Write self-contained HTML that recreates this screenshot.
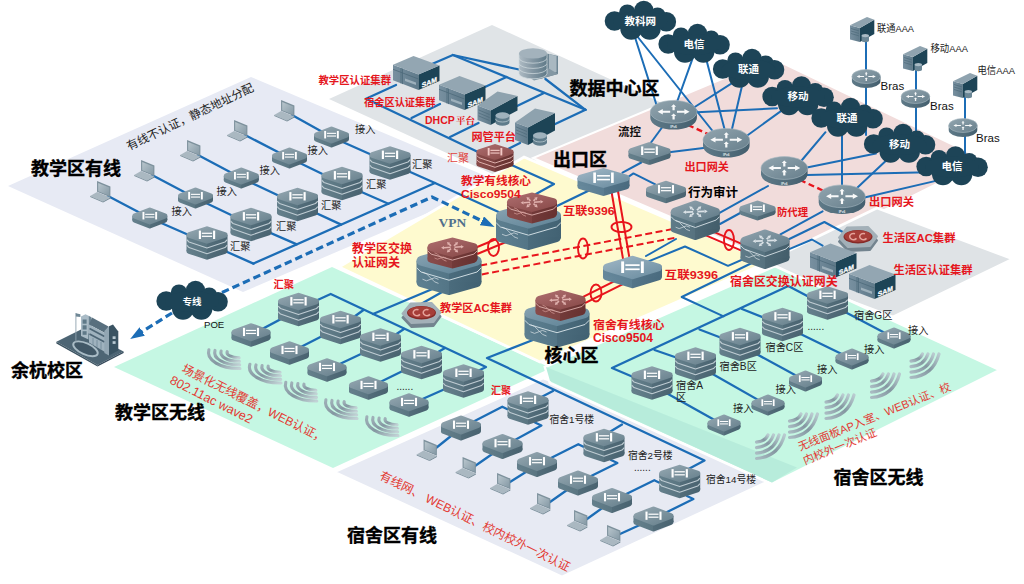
<!DOCTYPE html><html><head><meta charset="utf-8"><title>校园网拓扑</title>
<style>html,body{margin:0;padding:0;background:#fff;overflow:hidden}svg{display:block}</style></head><body>
<svg width="1024" height="584" viewBox="0 0 1024 584">
<defs>
<linearGradient id="gTop" x1="0" y1="0" x2="1" y2="1"><stop offset="0" stop-color="#91a4ae"/><stop offset="1" stop-color="#6a838f"/></linearGradient>
<linearGradient id="gTop2" x1="0" y1="0" x2="1" y2="1"><stop offset="0" stop-color="#8a9ea9"/><stop offset="1" stop-color="#647e8b"/></linearGradient>
<linearGradient id="bTop" x1="0" y1="0" x2="1" y2="1"><stop offset="0" stop-color="#9bb3c2"/><stop offset="1" stop-color="#6f90a3"/></linearGradient>
<linearGradient id="bTop2" x1="0" y1="0" x2="1" y2="1"><stop offset="0" stop-color="#86a2b1"/><stop offset="1" stop-color="#64879a"/></linearGradient>
<linearGradient id="rTop" x1="0" y1="0" x2="1" y2="1"><stop offset="0" stop-color="#a9696a"/><stop offset="1" stop-color="#8d4e4d"/></linearGradient>
<linearGradient id="gSide" x1="0" y1="0" x2="1" y2="0"><stop offset="0" stop-color="#647f8b"/><stop offset="0.5" stop-color="#5a7581"/><stop offset="0.5" stop-color="#536d7a"/><stop offset="1" stop-color="#4a6471"/></linearGradient>
<linearGradient id="gSide2" x1="0" y1="0" x2="1" y2="0"><stop offset="0" stop-color="#5f7b88"/><stop offset="0.5" stop-color="#56727f"/><stop offset="0.5" stop-color="#4e6976"/><stop offset="1" stop-color="#435e6b"/></linearGradient>
<linearGradient id="bSide" x1="0" y1="0" x2="1" y2="0"><stop offset="0" stop-color="#66889b"/><stop offset="0.5" stop-color="#5b7d91"/><stop offset="0.5" stop-color="#547589"/><stop offset="1" stop-color="#4a6b7f"/></linearGradient>
<linearGradient id="bSide2" x1="0" y1="0" x2="1" y2="0"><stop offset="0" stop-color="#5d7f90"/><stop offset="0.5" stop-color="#537586"/><stop offset="0.5" stop-color="#4b6c7d"/><stop offset="1" stop-color="#426273"/></linearGradient>
<linearGradient id="rSide" x1="0" y1="0" x2="1" y2="0"><stop offset="0" stop-color="#884b4a"/><stop offset="0.5" stop-color="#7d4241"/><stop offset="0.5" stop-color="#723a39"/><stop offset="1" stop-color="#683231"/></linearGradient>
<linearGradient id="rtTop" x1="0" y1="0" x2="1" y2="1"><stop offset="0" stop-color="#92a5af"/><stop offset="1" stop-color="#677f8c"/></linearGradient>
<linearGradient id="rtSide" x1="0" y1="0" x2="1" y2="0"><stop offset="0" stop-color="#5f7a88"/><stop offset="1" stop-color="#445f6e"/></linearGradient>
<linearGradient id="svFront" x1="0" y1="0" x2="1" y2="0"><stop offset="0" stop-color="#7890a0"/><stop offset="1" stop-color="#5f7a8a"/></linearGradient>
<linearGradient id="lapScr" x1="0" y1="0" x2="1" y2="1"><stop offset="0" stop-color="#b9c6cd"/><stop offset="1" stop-color="#8599a5"/></linearGradient>
<linearGradient id="dbSide" x1="0" y1="0" x2="1" y2="0"><stop offset="0" stop-color="#aebbc4"/><stop offset="0.45" stop-color="#8799a5"/><stop offset="1" stop-color="#5f7a88"/></linearGradient>
<linearGradient id="wfL" gradientUnits="objectBoundingBox" x1="0" y1="0" x2="1" y2="1"><stop offset="0" stop-color="#9fb0b8"/><stop offset="0.5" stop-color="#8497a1"/><stop offset="1" stop-color="#c2d3d6"/></linearGradient>
<linearGradient id="wfR" gradientUnits="objectBoundingBox" x1="1" y1="0" x2="0" y2="1"><stop offset="0" stop-color="#b9cbd0"/><stop offset="0.5" stop-color="#8497a1"/><stop offset="1" stop-color="#a9bbc2"/></linearGradient>
<marker id="arr" viewBox="0 0 10 10" refX="6" refY="5" markerWidth="4.4" markerHeight="3.1" orient="auto" preserveAspectRatio="none"><path d="M0 0 L10 5 L0 10 z" fill="#1c6db6"/></marker>
</defs>
<rect width="1024" height="584" fill="#fff"/>
<polygon points="492.0,25.0 662.0,103.0 499.0,177.0 329.0,99.0" fill="#e0e4e7" />
<polygon points="251.0,77.0 500.0,182.0 243.0,292.0 8.0,186.0" fill="#e7eaf4" />
<polygon points="332.0,267.0 551.0,368.0 333.0,468.0 114.0,367.0" fill="#c5f7e3" />
<polygon points="524.0,157.0 768.0,262.0 540.0,362.0 339.0,267.0" fill="#fefacf" stroke="#fff" stroke-width="2.8" stroke-linejoin="miter"/>
<polygon points="772.0,58.0 985.0,160.0 778.0,263.0 533.0,158.0" fill="#f1dcdb" stroke="#fff" stroke-width="2"/>
<polygon points="877.0,208.0 1013.0,259.0 893.0,317.0 757.0,266.0" fill="#dfe3e6" stroke="#fff" stroke-width="2.8" stroke-linejoin="miter"/>
<polygon points="543.0,378.0 800.0,467.0 562.0,577.0 334.0,472.0" fill="#e7eaf3" stroke="#fff" stroke-width="2.8" stroke-linejoin="miter"/>
<polygon points="775.0,266.0 1000.0,370.0 772.0,484.0 550.0,383.0 545.0,367.0" fill="#c5f7e3" stroke="#fff" stroke-width="2.8" stroke-linejoin="miter"/>
<polygon points="546.0,367.0 797.0,467.5 772.0,482.5 550.0,381.0" fill="#b7ecdb" />
<polyline points="292.0,115.0 331.5,137.0 390.0,163.0 435.0,183.0" fill="none" stroke="#1c6db6" stroke-width="2.3" stroke-linejoin="round" stroke-linecap="round" />
<polyline points="245.0,135.0 289.5,158.0 342.0,183.5 388.4,203.7" fill="none" stroke="#1c6db6" stroke-width="2.3" stroke-linejoin="round" stroke-linecap="round" />
<polyline points="198.0,155.0 241.3,178.0 297.5,204.5 341.2,224.6" fill="none" stroke="#1c6db6" stroke-width="2.3" stroke-linejoin="round" stroke-linecap="round" />
<polyline points="152.0,175.0 195.5,198.0 251.0,224.5 296.8,244.4" fill="none" stroke="#1c6db6" stroke-width="2.3" stroke-linejoin="round" stroke-linecap="round" />
<polyline points="108.0,196.0 149.8,218.0 207.0,243.0 253.4,263.6" fill="none" stroke="#1c6db6" stroke-width="2.3" stroke-linejoin="round" stroke-linecap="round" />
<polyline points="253.4,263.6 435.0,183.0 503.0,214.0" fill="none" stroke="#1c6db6" stroke-width="2.3" stroke-linejoin="round" stroke-linecap="round" />
<polyline points="432.0,64.0 452.9,55.0 519.0,69.5" fill="none" stroke="#1c6db6" stroke-width="2.3" stroke-linejoin="round" stroke-linecap="round" />
<polyline points="452.9,55.0 585.5,109.8" fill="none" stroke="#1c6db6" stroke-width="2.3" stroke-linejoin="round" stroke-linecap="round" />
<polyline points="485.5,86.7 506.5,77.0" fill="none" stroke="#1c6db6" stroke-width="2.3" stroke-linejoin="round" stroke-linecap="round" />
<polyline points="517.0,106.0 544.0,93.0" fill="none" stroke="#1c6db6" stroke-width="2.3" stroke-linejoin="round" stroke-linecap="round" />
<polyline points="545.4,79.0 585.5,109.8" fill="none" stroke="#1c6db6" stroke-width="2.3" stroke-linejoin="round" stroke-linecap="round" />
<polyline points="552.0,125.5 585.5,109.8" fill="none" stroke="#1c6db6" stroke-width="2.3" stroke-linejoin="round" stroke-linecap="round" />
<polyline points="396.0,85.0 366.0,98.8 478.0,152.0" fill="none" stroke="#1c6db6" stroke-width="2.3" stroke-linejoin="round" stroke-linecap="round" />
<polyline points="440.0,104.0 411.5,118.0" fill="none" stroke="#1c6db6" stroke-width="2.3" stroke-linejoin="round" stroke-linecap="round" />
<polyline points="478.5,123.0 450.0,137.0" fill="none" stroke="#1c6db6" stroke-width="2.3" stroke-linejoin="round" stroke-linecap="round" />
<polyline points="500.0,153.0 520.0,143.0" fill="none" stroke="#1c6db6" stroke-width="2.3" stroke-linejoin="round" stroke-linecap="round" />
<polyline points="511.5,165.0 554.0,184.0 536.0,194.0" fill="none" stroke="#1c6db6" stroke-width="2.3" stroke-linejoin="round" stroke-linecap="round" />
<polyline points="557.0,206.0 590.0,190.0" fill="none" stroke="#1c6db6" stroke-width="2.3" stroke-linejoin="round" stroke-linecap="round" />
<polyline points="633.4,32.3 657.5,108.0" fill="none" stroke="#1c6db6" stroke-width="2.0" stroke-linejoin="round" stroke-linecap="round" />
<polyline points="636.6,35.5 715.0,134.0" fill="none" stroke="#1c6db6" stroke-width="2.0" stroke-linejoin="round" stroke-linecap="round" />
<polyline points="694.4,53.4 677.0,102.0" fill="none" stroke="#1c6db6" stroke-width="2.0" stroke-linejoin="round" stroke-linecap="round" />
<polyline points="705.2,55.2 724.5,129.0" fill="none" stroke="#1c6db6" stroke-width="2.0" stroke-linejoin="round" stroke-linecap="round" />
<polyline points="739.9,78.2 690.0,110.0" fill="none" stroke="#1c6db6" stroke-width="2.0" stroke-linejoin="round" stroke-linecap="round" />
<polyline points="742.6,83.2 732.0,129.0" fill="none" stroke="#1c6db6" stroke-width="2.0" stroke-linejoin="round" stroke-linecap="round" />
<polyline points="777.0,108.3 697.0,112.2" fill="none" stroke="#1c6db6" stroke-width="2.0" stroke-linejoin="round" stroke-linecap="round" />
<polyline points="784.7,108.4 744.5,137.5" fill="none" stroke="#1c6db6" stroke-width="2.0" stroke-linejoin="round" stroke-linecap="round" />
<polyline points="825.5,132.2 802.0,160.0" fill="none" stroke="#1c6db6" stroke-width="2.0" stroke-linejoin="round" stroke-linecap="round" />
<polyline points="842.0,133.0 842.0,186.0" fill="none" stroke="#1c6db6" stroke-width="2.0" stroke-linejoin="round" stroke-linecap="round" />
<polyline points="875.9,153.6 807.0,167.5" fill="none" stroke="#1c6db6" stroke-width="2.0" stroke-linejoin="round" stroke-linecap="round" />
<polyline points="889.1,157.7 857.0,188.0" fill="none" stroke="#1c6db6" stroke-width="2.0" stroke-linejoin="round" stroke-linecap="round" />
<polyline points="928.0,172.3 807.0,175.0" fill="none" stroke="#1c6db6" stroke-width="2.0" stroke-linejoin="round" stroke-linecap="round" />
<polyline points="935.8,180.9 864.5,197.5" fill="none" stroke="#1c6db6" stroke-width="2.0" stroke-linejoin="round" stroke-linecap="round" />
<polyline points="866.0,40.0 866.0,135.0" fill="none" stroke="#1c6db6" stroke-width="2.0" stroke-linejoin="round" stroke-linecap="round" />
<polyline points="916.0,68.0 916.0,135.0" fill="none" stroke="#1c6db6" stroke-width="2.0" stroke-linejoin="round" stroke-linecap="round" />
<polyline points="965.0,95.0 965.0,155.0" fill="none" stroke="#1c6db6" stroke-width="2.0" stroke-linejoin="round" stroke-linecap="round" />
<polyline points="662.0,127.5 647.0,148.0" fill="none" stroke="#1c6db6" stroke-width="2.0" stroke-linejoin="round" stroke-linecap="round" />
<polyline points="622.5,172.7 641.3,162.5" fill="none" stroke="#1c6db6" stroke-width="2.0" stroke-linejoin="round" stroke-linecap="round" />
<polyline points="671.0,152.0 703.5,148.0" fill="none" stroke="#1c6db6" stroke-width="2.0" stroke-linejoin="round" stroke-linecap="round" />
<polyline points="628.7,176.6 633.4,173.4 655.3,184.4" fill="none" stroke="#1c6db6" stroke-width="2.0" stroke-linejoin="round" stroke-linecap="round" />
<polyline points="720.0,212.6 768.0,186.0" fill="none" stroke="#1c6db6" stroke-width="2.0" stroke-linejoin="round" stroke-linecap="round" />
<polyline points="720.0,224.0 742.0,212.0" fill="none" stroke="#1c6db6" stroke-width="2.0" stroke-linejoin="round" stroke-linecap="round" />
<polyline points="780.4,234.3 822.6,211.4" fill="none" stroke="#1c6db6" stroke-width="2.0" stroke-linejoin="round" stroke-linecap="round" />
<polyline points="788.3,239.5 824.4,222.0 843.7,232.5" fill="none" stroke="#1c6db6" stroke-width="2.0" stroke-linejoin="round" stroke-linecap="round" />
<polyline points="789.2,249.2 812.0,239.5 822.6,245.7" fill="none" stroke="#1c6db6" stroke-width="2.0" stroke-linejoin="round" stroke-linecap="round" />
<polyline points="643.0,263.6 685.0,246.5 728.0,265.8 750.5,256.0" fill="none" stroke="#1c6db6" stroke-width="2.0" stroke-linejoin="round" stroke-linecap="round" />
<polyline points="646.0,256.0 676.0,239.0" fill="none" stroke="#1c6db6" stroke-width="2.0" stroke-linejoin="round" stroke-linecap="round" />
<polyline points="755.0,261.5 681.7,297.0 723.6,316.3" fill="none" stroke="#1c6db6" stroke-width="2.0" stroke-linejoin="round" stroke-linecap="round" />
<polyline points="652.0,385.0 612.0,368.0 788.3,286.0 806.8,295.8" fill="none" stroke="#1c6db6" stroke-width="2.3" stroke-linejoin="round" stroke-linecap="round" />
<polyline points="652.0,385.0 723.5,425.0" fill="none" stroke="#1c6db6" stroke-width="2.3" stroke-linejoin="round" stroke-linecap="round" />
<polyline points="695.0,364.0 767.0,405.0" fill="none" stroke="#1c6db6" stroke-width="2.3" stroke-linejoin="round" stroke-linecap="round" />
<polyline points="740.0,345.0 806.0,381.0" fill="none" stroke="#1c6db6" stroke-width="2.3" stroke-linejoin="round" stroke-linecap="round" />
<polyline points="782.0,325.0 852.0,359.0" fill="none" stroke="#1c6db6" stroke-width="2.3" stroke-linejoin="round" stroke-linecap="round" />
<polyline points="828.0,303.0 894.5,338.0" fill="none" stroke="#1c6db6" stroke-width="2.3" stroke-linejoin="round" stroke-linecap="round" />
<polyline points="695.0,364.0 654.5,350.0" fill="none" stroke="#1c6db6" stroke-width="2.3" stroke-linejoin="round" stroke-linecap="round" />
<polyline points="740.0,345.0 699.5,329.5" fill="none" stroke="#1c6db6" stroke-width="2.3" stroke-linejoin="round" stroke-linecap="round" />
<polyline points="782.0,325.0 742.0,309.0" fill="none" stroke="#1c6db6" stroke-width="2.3" stroke-linejoin="round" stroke-linecap="round" />
<polyline points="300.0,308.0 330.7,294.0 486.0,367.0 464.0,378.0" fill="none" stroke="#1c6db6" stroke-width="2.3" stroke-linejoin="round" stroke-linecap="round" />
<polyline points="436.0,287.5 373.0,314.0" fill="none" stroke="#1c6db6" stroke-width="2.3" stroke-linejoin="round" stroke-linecap="round" />
<polyline points="443.0,291.5 421.0,304.0" fill="none" stroke="#1c6db6" stroke-width="2.3" stroke-linejoin="round" stroke-linecap="round" />
<polyline points="298.0,310.0 251.0,335.0" fill="none" stroke="#1c6db6" stroke-width="2.3" stroke-linejoin="round" stroke-linecap="round" />
<polyline points="340.0,327.0 289.0,353.0" fill="none" stroke="#1c6db6" stroke-width="2.3" stroke-linejoin="round" stroke-linecap="round" />
<polyline points="380.0,345.0 327.0,370.0" fill="none" stroke="#1c6db6" stroke-width="2.3" stroke-linejoin="round" stroke-linecap="round" />
<polyline points="421.0,362.0 368.0,388.0" fill="none" stroke="#1c6db6" stroke-width="2.3" stroke-linejoin="round" stroke-linecap="round" />
<polyline points="463.0,381.0 409.0,405.0" fill="none" stroke="#1c6db6" stroke-width="2.3" stroke-linejoin="round" stroke-linecap="round" />
<polyline points="340.0,327.0 363.5,310.0" fill="none" stroke="#1c6db6" stroke-width="2.3" stroke-linejoin="round" stroke-linecap="round" />
<polyline points="380.0,345.0 404.0,329.0" fill="none" stroke="#1c6db6" stroke-width="2.3" stroke-linejoin="round" stroke-linecap="round" />
<polyline points="421.0,362.0 445.0,348.0" fill="none" stroke="#1c6db6" stroke-width="2.3" stroke-linejoin="round" stroke-linecap="round" />
<polyline points="538.0,338.0 487.0,358.0 704.5,460.5 681.0,473.0" fill="none" stroke="#1c6db6" stroke-width="2.3" stroke-linejoin="round" stroke-linecap="round" />
<polyline points="553.0,391.0 528.0,404.0" fill="none" stroke="#1c6db6" stroke-width="2.3" stroke-linejoin="round" stroke-linecap="round" />
<polyline points="622.0,424.5 603.0,436.0" fill="none" stroke="#1c6db6" stroke-width="2.3" stroke-linejoin="round" stroke-linecap="round" />
<polyline points="510.0,410.5 502.3,406.7 461.0,428.0 436.0,448.0" fill="none" stroke="#1c6db6" stroke-width="2.3" stroke-linejoin="round" stroke-linecap="round" />
<polyline points="535.0,422.5 541.4,425.5 503.0,446.5 475.0,466.0" fill="none" stroke="#1c6db6" stroke-width="2.3" stroke-linejoin="round" stroke-linecap="round" />
<polyline points="586.0,448.0 578.3,444.2 537.0,465.0 510.0,482.0" fill="none" stroke="#1c6db6" stroke-width="2.3" stroke-linejoin="round" stroke-linecap="round" />
<polyline points="611.0,460.0 617.4,463.0 577.0,483.0 550.0,502.0" fill="none" stroke="#1c6db6" stroke-width="2.3" stroke-linejoin="round" stroke-linecap="round" />
<polyline points="662.0,484.0 654.3,480.2 612.0,501.0 587.0,519.0" fill="none" stroke="#1c6db6" stroke-width="2.3" stroke-linejoin="round" stroke-linecap="round" />
<polyline points="687.0,496.0 693.4,499.0 653.0,519.0 620.0,534.0" fill="none" stroke="#1c6db6" stroke-width="2.3" stroke-linejoin="round" stroke-linecap="round" />
<polyline points="222,292.5 432,197 489.5,224.5" fill="none" stroke="#1c6db6" stroke-width="3.2" stroke-dasharray="7.5,4" marker-end="url(#arr)"/>
<polyline points="172,313 135,336" fill="none" stroke="#1c6db6" stroke-width="3.2" stroke-dasharray="7.5,4" marker-end="url(#arr)"/>
<line x1="688" y1="125" x2="712" y2="136" stroke="#e8141c" stroke-width="2.4" stroke-dasharray="6,3.5"/>
<line x1="800" y1="180" x2="826" y2="192" stroke="#e8141c" stroke-width="2.4" stroke-dasharray="6,3.5"/>
<line x1="617.7" y1="189.5" x2="629.7" y2="259.5" stroke="#e8141c" stroke-width="2.0" />
<line x1="611.3" y1="190.5" x2="623.3" y2="260.5" stroke="#e8141c" stroke-width="2.0" />
<ellipse cx="621.5" cy="227.0" rx="10.0" ry="5.0" fill="none" stroke="#e8141c" stroke-width="1.9"/>
<line x1="474.8" y1="248.0" x2="510.8" y2="233.0" stroke="#e8141c" stroke-width="2.0" />
<line x1="477.2" y1="254.0" x2="513.2" y2="239.0" stroke="#e8141c" stroke-width="2.0" />
<ellipse cx="493.5" cy="247.5" rx="5.5" ry="8.5" fill="none" stroke="#e8141c" stroke-width="1.9"/>
<line x1="576.6" y1="300.1" x2="630.6" y2="273.1" stroke="#e8141c" stroke-width="2.0" />
<line x1="579.4" y1="305.9" x2="633.4" y2="278.9" stroke="#e8141c" stroke-width="2.0" />
<ellipse cx="596.0" cy="293.0" rx="5.5" ry="8.5" fill="none" stroke="#e8141c" stroke-width="1.9"/>
<line x1="707.3" y1="229.1" x2="749.3" y2="247.1" stroke="#e8141c" stroke-width="2.0" />
<line x1="704.7" y1="234.9" x2="746.7" y2="252.9" stroke="#e8141c" stroke-width="2.0" />
<ellipse cx="729.0" cy="240.0" rx="5.0" ry="10.0" fill="none" stroke="#e8141c" stroke-width="1.9"/>
<line x1="480.2" y1="265.6" x2="675.2" y2="228.6" stroke="#e8141c" stroke-width="2.0" stroke-dasharray="7,3.5"/>
<line x1="481.8" y1="274.4" x2="676.8" y2="237.4" stroke="#e8141c" stroke-width="2.0" stroke-dasharray="7,3.5"/>
<ellipse cx="583.0" cy="248.5" rx="5.0" ry="10.0" fill="none" stroke="#e8141c" stroke-width="1.9"/>
<g transform="translate(285.2,110.2) scale(0.92,0.92)">
<polygon points="-4.5,-11 10,-5 10,6.5 -4.5,0.5" fill="#7d919c"/>
<polygon points="-3.3,-9 8.8,-4 8.8,5 -3.3,0" fill="url(#lapScr)"/>
<polygon points="-12,5.2 -4.5,0.8 10,6.8 2,11.2" fill="#aab8c1"/>
<polygon points="-12,5.2 2,11.2 2,12.2 -12,6.2" fill="#7f939e"/>
<polygon points="2,11.2 10,6.8 10,7.8 2,12.2" fill="#6f8591"/>
</g>
<g transform="translate(238.2,130.2) scale(0.92,0.92)">
<polygon points="-4.5,-11 10,-5 10,6.5 -4.5,0.5" fill="#7d919c"/>
<polygon points="-3.3,-9 8.8,-4 8.8,5 -3.3,0" fill="url(#lapScr)"/>
<polygon points="-12,5.2 -4.5,0.8 10,6.8 2,11.2" fill="#aab8c1"/>
<polygon points="-12,5.2 2,11.2 2,12.2 -12,6.2" fill="#7f939e"/>
<polygon points="2,11.2 10,6.8 10,7.8 2,12.2" fill="#6f8591"/>
</g>
<g transform="translate(191.2,150.2) scale(0.92,0.92)">
<polygon points="-4.5,-11 10,-5 10,6.5 -4.5,0.5" fill="#7d919c"/>
<polygon points="-3.3,-9 8.8,-4 8.8,5 -3.3,0" fill="url(#lapScr)"/>
<polygon points="-12,5.2 -4.5,0.8 10,6.8 2,11.2" fill="#aab8c1"/>
<polygon points="-12,5.2 2,11.2 2,12.2 -12,6.2" fill="#7f939e"/>
<polygon points="2,11.2 10,6.8 10,7.8 2,12.2" fill="#6f8591"/>
</g>
<g transform="translate(145.2,170.2) scale(0.92,0.92)">
<polygon points="-4.5,-11 10,-5 10,6.5 -4.5,0.5" fill="#7d919c"/>
<polygon points="-3.3,-9 8.8,-4 8.8,5 -3.3,0" fill="url(#lapScr)"/>
<polygon points="-12,5.2 -4.5,0.8 10,6.8 2,11.2" fill="#aab8c1"/>
<polygon points="-12,5.2 2,11.2 2,12.2 -12,6.2" fill="#7f939e"/>
<polygon points="2,11.2 10,6.8 10,7.8 2,12.2" fill="#6f8591"/>
</g>
<g transform="translate(101.2,191.2) scale(0.92,0.92)">
<polygon points="-4.5,-11 10,-5 10,6.5 -4.5,0.5" fill="#7d919c"/>
<polygon points="-3.3,-9 8.8,-4 8.8,5 -3.3,0" fill="url(#lapScr)"/>
<polygon points="-12,5.2 -4.5,0.8 10,6.8 2,11.2" fill="#aab8c1"/>
<polygon points="-12,5.2 2,11.2 2,12.2 -12,6.2" fill="#7f939e"/>
<polygon points="2,11.2 10,6.8 10,7.8 2,12.2" fill="#6f8591"/>
</g>
<polygon points="331.5,133.1 346.4,139.0 331.5,144.9 316.6,139.0" fill="url(#gSide)" stroke="url(#gSide)" stroke-linejoin="round" stroke-width="5.2"/>
<rect x="314.0" y="135.0" width="35.0" height="4.0" fill="url(#gSide)"/>
<polygon points="331.5,129.1 346.4,135.0 331.5,140.9 316.6,135.0" fill="url(#gTop)" stroke="url(#gTop)" stroke-linejoin="round" stroke-width="5.2"/>
<g fill="#fff" opacity="1">
<rect x="324.20" y="130.95" width="1.90" height="7.50"/>
<rect x="336.90" y="130.95" width="1.90" height="7.50"/>
<rect x="326.90" y="132.80" width="9.20" height="1.10"/>
<rect x="326.90" y="135.50" width="9.20" height="1.10"/>
</g>
<polygon points="289.5,154.1 304.4,160.0 289.5,165.9 274.6,160.0" fill="url(#gSide)" stroke="url(#gSide)" stroke-linejoin="round" stroke-width="5.2"/>
<rect x="272.0" y="156.0" width="35.0" height="4.0" fill="url(#gSide)"/>
<polygon points="289.5,150.1 304.4,156.0 289.5,161.9 274.6,156.0" fill="url(#gTop)" stroke="url(#gTop)" stroke-linejoin="round" stroke-width="5.2"/>
<g fill="#fff" opacity="1">
<rect x="282.20" y="151.95" width="1.90" height="7.50"/>
<rect x="294.90" y="151.95" width="1.90" height="7.50"/>
<rect x="284.90" y="153.80" width="9.20" height="1.10"/>
<rect x="284.90" y="156.50" width="9.20" height="1.10"/>
</g>
<polygon points="241.3,174.1 256.2,180.0 241.3,185.9 226.4,180.0" fill="url(#gSide)" stroke="url(#gSide)" stroke-linejoin="round" stroke-width="5.2"/>
<rect x="223.8" y="176.0" width="35.0" height="4.0" fill="url(#gSide)"/>
<polygon points="241.3,170.1 256.2,176.0 241.3,181.9 226.4,176.0" fill="url(#gTop)" stroke="url(#gTop)" stroke-linejoin="round" stroke-width="5.2"/>
<g fill="#fff" opacity="1">
<rect x="234.00" y="171.95" width="1.90" height="7.50"/>
<rect x="246.70" y="171.95" width="1.90" height="7.50"/>
<rect x="236.70" y="173.80" width="9.20" height="1.10"/>
<rect x="236.70" y="176.50" width="9.20" height="1.10"/>
</g>
<polygon points="195.5,194.1 210.4,200.0 195.5,205.9 180.6,200.0" fill="url(#gSide)" stroke="url(#gSide)" stroke-linejoin="round" stroke-width="5.2"/>
<rect x="178.0" y="196.0" width="35.0" height="4.0" fill="url(#gSide)"/>
<polygon points="195.5,190.1 210.4,196.0 195.5,201.9 180.6,196.0" fill="url(#gTop)" stroke="url(#gTop)" stroke-linejoin="round" stroke-width="5.2"/>
<g fill="#fff" opacity="1">
<rect x="188.20" y="191.95" width="1.90" height="7.50"/>
<rect x="200.90" y="191.95" width="1.90" height="7.50"/>
<rect x="190.90" y="193.80" width="9.20" height="1.10"/>
<rect x="190.90" y="196.50" width="9.20" height="1.10"/>
</g>
<polygon points="149.8,214.1 164.7,220.0 149.8,225.9 134.9,220.0" fill="url(#gSide)" stroke="url(#gSide)" stroke-linejoin="round" stroke-width="5.2"/>
<rect x="132.3" y="216.0" width="35.0" height="4.0" fill="url(#gSide)"/>
<polygon points="149.8,210.1 164.7,216.0 149.8,221.9 134.9,216.0" fill="url(#gTop)" stroke="url(#gTop)" stroke-linejoin="round" stroke-width="5.2"/>
<g fill="#fff" opacity="1">
<rect x="142.50" y="211.95" width="1.90" height="7.50"/>
<rect x="155.20" y="211.95" width="1.90" height="7.50"/>
<rect x="145.20" y="213.80" width="9.20" height="1.10"/>
<rect x="145.20" y="216.50" width="9.20" height="1.10"/>
</g>
<polygon points="390.0,165.1 407.7,171.0 390.0,176.9 372.3,171.0" fill="url(#gSide)" stroke="url(#gSide)" stroke-linejoin="round" stroke-width="5.6"/>
<rect x="369.5" y="155.0" width="41.0" height="16.0" fill="url(#gSide)"/>
<polyline points="369.7,159.6 372.0,162.0 390.0,168.1 408.0,162.0 410.3,159.6" fill="none" stroke="#bfccd3" stroke-width="1.1" stroke-linejoin="round"/>
<polyline points="369.7,165.2 372.0,167.6 390.0,173.7 408.0,167.6 410.3,165.2" fill="none" stroke="#bfccd3" stroke-width="1.1" stroke-linejoin="round"/>
<polygon points="390.0,149.1 407.7,155.0 390.0,160.9 372.3,155.0" fill="url(#gTop)" stroke="url(#gTop)" stroke-linejoin="round" stroke-width="5.6"/>
<g fill="#fff" opacity="1">
<rect x="381.82" y="150.60" width="2.13" height="8.40"/>
<rect x="396.05" y="150.60" width="2.13" height="8.40"/>
<rect x="384.85" y="152.67" width="10.30" height="1.23"/>
<rect x="384.85" y="155.70" width="10.30" height="1.23"/>
</g>
<polygon points="342.0,185.6 359.7,191.5 342.0,197.4 324.3,191.5" fill="url(#gSide)" stroke="url(#gSide)" stroke-linejoin="round" stroke-width="5.6"/>
<rect x="321.5" y="175.5" width="41.0" height="16.0" fill="url(#gSide)"/>
<polyline points="321.7,180.1 324.0,182.5 342.0,188.6 360.0,182.5 362.3,180.1" fill="none" stroke="#bfccd3" stroke-width="1.1" stroke-linejoin="round"/>
<polyline points="321.7,185.7 324.0,188.1 342.0,194.2 360.0,188.1 362.3,185.7" fill="none" stroke="#bfccd3" stroke-width="1.1" stroke-linejoin="round"/>
<polygon points="342.0,169.6 359.7,175.5 342.0,181.4 324.3,175.5" fill="url(#gTop)" stroke="url(#gTop)" stroke-linejoin="round" stroke-width="5.6"/>
<g fill="#fff" opacity="1">
<rect x="333.82" y="171.10" width="2.13" height="8.40"/>
<rect x="348.05" y="171.10" width="2.13" height="8.40"/>
<rect x="336.85" y="173.17" width="10.30" height="1.23"/>
<rect x="336.85" y="176.20" width="10.30" height="1.23"/>
</g>
<polygon points="297.5,206.6 315.2,212.5 297.5,218.4 279.8,212.5" fill="url(#gSide)" stroke="url(#gSide)" stroke-linejoin="round" stroke-width="5.6"/>
<rect x="277.0" y="196.5" width="41.0" height="16.0" fill="url(#gSide)"/>
<polyline points="277.2,201.1 279.5,203.5 297.5,209.6 315.5,203.5 317.8,201.1" fill="none" stroke="#bfccd3" stroke-width="1.1" stroke-linejoin="round"/>
<polyline points="277.2,206.7 279.5,209.1 297.5,215.2 315.5,209.1 317.8,206.7" fill="none" stroke="#bfccd3" stroke-width="1.1" stroke-linejoin="round"/>
<polygon points="297.5,190.6 315.2,196.5 297.5,202.4 279.8,196.5" fill="url(#gTop)" stroke="url(#gTop)" stroke-linejoin="round" stroke-width="5.6"/>
<g fill="#fff" opacity="1">
<rect x="289.32" y="192.10" width="2.13" height="8.40"/>
<rect x="303.55" y="192.10" width="2.13" height="8.40"/>
<rect x="292.35" y="194.17" width="10.30" height="1.23"/>
<rect x="292.35" y="197.20" width="10.30" height="1.23"/>
</g>
<polygon points="251.0,226.6 268.7,232.5 251.0,238.4 233.3,232.5" fill="url(#gSide)" stroke="url(#gSide)" stroke-linejoin="round" stroke-width="5.6"/>
<rect x="230.5" y="216.5" width="41.0" height="16.0" fill="url(#gSide)"/>
<polyline points="230.7,221.1 233.0,223.5 251.0,229.6 269.0,223.5 271.3,221.1" fill="none" stroke="#bfccd3" stroke-width="1.1" stroke-linejoin="round"/>
<polyline points="230.7,226.7 233.0,229.1 251.0,235.2 269.0,229.1 271.3,226.7" fill="none" stroke="#bfccd3" stroke-width="1.1" stroke-linejoin="round"/>
<polygon points="251.0,210.6 268.7,216.5 251.0,222.4 233.3,216.5" fill="url(#gTop)" stroke="url(#gTop)" stroke-linejoin="round" stroke-width="5.6"/>
<g fill="#fff" opacity="1">
<rect x="242.82" y="212.10" width="2.13" height="8.40"/>
<rect x="257.05" y="212.10" width="2.13" height="8.40"/>
<rect x="245.85" y="214.17" width="10.30" height="1.23"/>
<rect x="245.85" y="217.20" width="10.30" height="1.23"/>
</g>
<polygon points="207.0,245.1 224.7,251.0 207.0,256.9 189.3,251.0" fill="url(#gSide)" stroke="url(#gSide)" stroke-linejoin="round" stroke-width="5.6"/>
<rect x="186.5" y="235.0" width="41.0" height="16.0" fill="url(#gSide)"/>
<polyline points="186.7,239.6 189.0,242.0 207.0,248.1 225.0,242.0 227.3,239.6" fill="none" stroke="#bfccd3" stroke-width="1.1" stroke-linejoin="round"/>
<polyline points="186.7,245.2 189.0,247.6 207.0,253.7 225.0,247.6 227.3,245.2" fill="none" stroke="#bfccd3" stroke-width="1.1" stroke-linejoin="round"/>
<polygon points="207.0,229.1 224.7,235.0 207.0,240.9 189.3,235.0" fill="url(#gTop)" stroke="url(#gTop)" stroke-linejoin="round" stroke-width="5.6"/>
<g fill="#fff" opacity="1">
<rect x="198.82" y="230.60" width="2.13" height="8.40"/>
<rect x="213.05" y="230.60" width="2.13" height="8.40"/>
<rect x="201.85" y="232.67" width="10.30" height="1.23"/>
<rect x="201.85" y="235.70" width="10.30" height="1.23"/>
</g>
<polygon points="540.0,52.0 558.0,56.0 558.0,74.0 540.0,79.0" fill="#6e8694"/>
<polygon points="549.0,54.0 556.5,56.0 556.5,72.0 549.0,74.0" fill="#a9b8c1"/>
<polygon points="518.0,70.0 534.0,80.5 558.0,74.0 548.0,68.0" fill="#8397a3"/>
<path d="M519.0 69.0 v4.6 a14 5.2 0 0 0 28 0 v-4.6 z" fill="url(#dbSide)" stroke="#d3dce1" stroke-width="0.7"/>
<path d="M519.0 63.8 v4.6 a14 5.2 0 0 0 28 0 v-4.6 z" fill="url(#dbSide)" stroke="#d3dce1" stroke-width="0.7"/>
<path d="M519.0 58.6 v4.6 a14 5.2 0 0 0 28 0 v-4.6 z" fill="url(#dbSide)" stroke="#d3dce1" stroke-width="0.7"/>
<path d="M519.0 53.4 v4.6 a14 5.2 0 0 0 28 0 v-4.6 z" fill="url(#dbSide)" stroke="#d3dce1" stroke-width="0.7"/>
<ellipse cx="533.0" cy="53.4" rx="14" ry="5.2" fill="#a3b2bc"/>
<polygon points="393.0,64.8 418.5,74.5 418.5,90.0 393.0,80.3" fill="url(#svFront)" />
<polygon points="418.5,74.5 439.5,65.5 439.5,81.0 418.5,90.0" fill="#1d4456" />
<polygon points="413.5,56.0 439.5,65.5 418.5,74.5 393.0,64.8" fill="#93a6b2" />
<g stroke="#4d6a7a" stroke-width="0.8" fill="none">
<line x1="401.0" y1="68.0" x2="401.0" y2="83.5"/>
<line x1="402.5" y1="68.6" x2="402.5" y2="84.1"/>
<line x1="393.0" y1="69.3" x2="418.5" y2="79.0"/>
</g>
<polygon points="405.0,78.5 416.0,82.5 416.0,85.0 405.0,81.0" fill="#9db0bb" />
<text transform="matrix(1,-0.42,0,1,421.7,87.8)" font-size="6.8" font-weight="bold" fill="#fff" stroke="#fff" stroke-width="0.25" font-family='"Liberation Sans","Noto Sans CJK SC",sans-serif'>SAM</text>
<polygon points="439.0,84.8 464.5,94.5 464.5,110.0 439.0,100.3" fill="url(#svFront)" />
<polygon points="464.5,94.5 485.5,85.5 485.5,101.0 464.5,110.0" fill="#1d4456" />
<polygon points="459.5,76.0 485.5,85.5 464.5,94.5 439.0,84.8" fill="#93a6b2" />
<g stroke="#4d6a7a" stroke-width="0.8" fill="none">
<line x1="447.0" y1="88.0" x2="447.0" y2="103.5"/>
<line x1="448.5" y1="88.6" x2="448.5" y2="104.1"/>
<line x1="439.0" y1="89.3" x2="464.5" y2="99.0"/>
</g>
<polygon points="451.0,98.5 462.0,102.5 462.0,105.0 451.0,101.0" fill="#9db0bb" />
<text transform="matrix(1,-0.42,0,1,467.7,107.8)" font-size="6.8" font-weight="bold" fill="#fff" stroke="#fff" stroke-width="0.25" font-family='"Liberation Sans","Noto Sans CJK SC",sans-serif'>SAM</text>
<polygon points="477.5,105.5 490.5,110.5 490.5,125.0 477.5,120.0" fill="url(#svFront)" />
<polygon points="490.5,110.5 517.5,96.0 517.5,110.5 490.5,125.0" fill="#1d4456" />
<polygon points="497.5,91.5 517.5,96.0 490.5,110.5 477.5,105.5" fill="#8ea2ae" />
<g stroke="#4d6a7a" stroke-width="0.7" fill="none">
<line x1="478.5" y1="109.9" x2="489.5" y2="114.5"/>
<line x1="478.5" y1="112.9" x2="489.5" y2="117.5"/>
<line x1="478.5" y1="115.9" x2="489.5" y2="120.5"/>
</g>
<path d="M495.5 115.5 v7 a7 3.2 0 0 0 14 0 v-7 z" fill="#5f7c8b"/>
<path d="M495.5 118.8 a7 3.2 0 0 0 14 0" fill="none" stroke="#c4d2d9" stroke-width="0.7"/>
<ellipse cx="502.5" cy="115.5" rx="7" ry="3.2" fill="#9fb2bd"/>
<polygon points="515.0,122.5 528.0,127.5 528.0,145.0 515.0,140.0" fill="url(#svFront)" />
<polygon points="528.0,127.5 555.0,113.0 555.0,130.5 528.0,145.0" fill="#1d4456" />
<polygon points="535.0,108.5 555.0,113.0 528.0,127.5 515.0,122.5" fill="#8ea2ae" />
<g stroke="#4d6a7a" stroke-width="0.7" fill="none">
<line x1="516.0" y1="126.9" x2="527.0" y2="131.5"/>
<line x1="516.0" y1="129.9" x2="527.0" y2="134.5"/>
<line x1="516.0" y1="132.9" x2="527.0" y2="137.5"/>
</g>
<path d="M533.0 135.5 v7 a7 3.2 0 0 0 14 0 v-7 z" fill="#5f7c8b"/>
<path d="M533.0 138.8 a7 3.2 0 0 0 14 0" fill="none" stroke="#c4d2d9" stroke-width="0.7"/>
<ellipse cx="540.0" cy="135.5" rx="7" ry="3.2" fill="#9fb2bd"/>
<polygon points="495.0,158.8 510.9,164.1 495.0,169.4 479.1,164.1" fill="url(#rSide)" stroke="url(#rSide)" stroke-linejoin="round" stroke-width="5.2"/>
<rect x="476.5" y="151.9" width="37.0" height="12.2" fill="url(#rSide)"/>
<polyline points="476.7,155.4 478.8,157.6 495.0,163.0 511.2,157.6 513.3,155.4" fill="none" stroke="#dcaeaa" stroke-width="1.0" stroke-linejoin="round"/>
<polyline points="476.7,159.7 478.8,161.9 495.0,167.3 511.2,161.9 513.3,159.7" fill="none" stroke="#dcaeaa" stroke-width="1.0" stroke-linejoin="round"/>
<polygon points="495.0,146.6 510.9,151.9 495.0,157.2 479.1,151.9" fill="url(#rTop)" stroke="url(#rTop)" stroke-linejoin="round" stroke-width="5.2"/>
<g fill="#f3c9c6" opacity="1">
<rect x="487.70" y="147.95" width="1.90" height="7.50"/>
<rect x="500.40" y="147.95" width="1.90" height="7.50"/>
<rect x="490.40" y="149.80" width="9.20" height="1.10"/>
<rect x="490.40" y="152.50" width="9.20" height="1.10"/>
</g>
<g fill="#1d4457">
<circle cx="614.5" cy="21.0" r="9.8"/>
<circle cx="627.3" cy="12.7" r="8.3"/>
<circle cx="643.8" cy="10.3" r="9.6"/>
<circle cx="657.5" cy="15.6" r="8.2"/>
<circle cx="666.3" cy="21.7" r="9.8"/>
<circle cx="631.3" cy="28.8" r="11.0"/>
<circle cx="649.7" cy="28.8" r="11.0"/>
<ellipse cx="640.3" cy="21.5" rx="27.0" ry="10.5"/>
</g>
<text x="640.3" y="24.7" font-size="10.5" fill="#fff" font-weight="bold" text-anchor="middle" font-family='"Liberation Sans","Noto Sans CJK SC",sans-serif' >教科网</text>
<g fill="#1d4457">
<circle cx="668.2" cy="44.0" r="9.8"/>
<circle cx="681.0" cy="35.7" r="8.3"/>
<circle cx="697.5" cy="33.3" r="9.6"/>
<circle cx="711.2" cy="38.6" r="8.2"/>
<circle cx="720.0" cy="44.7" r="9.8"/>
<circle cx="685.0" cy="51.8" r="11.0"/>
<circle cx="703.4" cy="51.8" r="11.0"/>
<ellipse cx="694.0" cy="44.5" rx="27.0" ry="10.5"/>
</g>
<text x="694.0" y="47.7" font-size="10.5" fill="#fff" font-weight="bold" text-anchor="middle" font-family='"Liberation Sans","Noto Sans CJK SC",sans-serif' >电信</text>
<g fill="#1d4457">
<circle cx="722.7" cy="69.0" r="9.8"/>
<circle cx="735.5" cy="60.7" r="8.3"/>
<circle cx="752.0" cy="58.3" r="9.6"/>
<circle cx="765.7" cy="63.6" r="8.2"/>
<circle cx="774.5" cy="69.7" r="9.8"/>
<circle cx="739.5" cy="76.8" r="11.0"/>
<circle cx="757.9" cy="76.8" r="11.0"/>
<ellipse cx="748.5" cy="69.5" rx="27.0" ry="10.5"/>
</g>
<text x="748.5" y="72.7" font-size="10.5" fill="#fff" font-weight="bold" text-anchor="middle" font-family='"Liberation Sans","Noto Sans CJK SC",sans-serif' >联通</text>
<g fill="#1d4457">
<circle cx="772.2" cy="96.5" r="9.8"/>
<circle cx="785.0" cy="88.2" r="8.3"/>
<circle cx="801.5" cy="85.8" r="9.6"/>
<circle cx="815.2" cy="91.1" r="8.2"/>
<circle cx="824.0" cy="97.2" r="9.8"/>
<circle cx="789.0" cy="104.3" r="11.0"/>
<circle cx="807.4" cy="104.3" r="11.0"/>
<ellipse cx="798.0" cy="97.0" rx="27.0" ry="10.5"/>
</g>
<text x="798.0" y="100.2" font-size="10.5" fill="#fff" font-weight="bold" text-anchor="middle" font-family='"Liberation Sans","Noto Sans CJK SC",sans-serif' >移动</text>
<g fill="#1d4457">
<circle cx="821.2" cy="118.0" r="9.8"/>
<circle cx="834.0" cy="109.7" r="8.3"/>
<circle cx="850.5" cy="107.3" r="9.6"/>
<circle cx="864.2" cy="112.6" r="8.2"/>
<circle cx="873.0" cy="118.7" r="9.8"/>
<circle cx="838.0" cy="125.8" r="11.0"/>
<circle cx="856.4" cy="125.8" r="11.0"/>
<ellipse cx="847.0" cy="118.5" rx="27.0" ry="10.5"/>
</g>
<text x="847.0" y="121.7" font-size="10.5" fill="#fff" font-weight="bold" text-anchor="middle" font-family='"Liberation Sans","Noto Sans CJK SC",sans-serif' >联通</text>
<g fill="#1d4457">
<circle cx="873.7" cy="144.0" r="9.8"/>
<circle cx="886.5" cy="135.7" r="8.3"/>
<circle cx="903.0" cy="133.3" r="9.6"/>
<circle cx="916.7" cy="138.6" r="8.2"/>
<circle cx="925.5" cy="144.7" r="9.8"/>
<circle cx="890.5" cy="151.8" r="11.0"/>
<circle cx="908.9" cy="151.8" r="11.0"/>
<ellipse cx="899.5" cy="144.5" rx="27.0" ry="10.5"/>
</g>
<text x="899.5" y="147.7" font-size="10.5" fill="#fff" font-weight="bold" text-anchor="middle" font-family='"Liberation Sans","Noto Sans CJK SC",sans-serif' >移动</text>
<g fill="#1d4457">
<circle cx="926.2" cy="166.5" r="9.8"/>
<circle cx="939.0" cy="158.2" r="8.3"/>
<circle cx="955.5" cy="155.8" r="9.6"/>
<circle cx="969.2" cy="161.1" r="8.2"/>
<circle cx="978.0" cy="167.2" r="9.8"/>
<circle cx="943.0" cy="174.3" r="11.0"/>
<circle cx="961.4" cy="174.3" r="11.0"/>
<ellipse cx="952.0" cy="167.0" rx="27.0" ry="10.5"/>
</g>
<text x="952.0" y="170.2" font-size="10.5" fill="#fff" font-weight="bold" text-anchor="middle" font-family='"Liberation Sans","Noto Sans CJK SC",sans-serif' >电信</text>
<g fill="#1d4457">
<circle cx="166.2" cy="301.0" r="9.8"/>
<circle cx="179.0" cy="292.7" r="8.3"/>
<circle cx="195.5" cy="290.3" r="9.6"/>
<circle cx="209.2" cy="295.6" r="8.2"/>
<circle cx="218.0" cy="301.7" r="9.8"/>
<circle cx="183.0" cy="308.8" r="11.0"/>
<circle cx="201.4" cy="308.8" r="11.0"/>
<ellipse cx="192.0" cy="301.5" rx="27.0" ry="10.5"/>
</g>
<text x="192.0" y="304.7" font-size="9.5" fill="#fff" font-weight="bold" text-anchor="middle" font-family='"Liberation Sans","Noto Sans CJK SC",sans-serif' >专线</text>
<path d="M650.3 111.8 v6.3 a23.3 11.4 0 0 0 46.6 0 v-6.3 z" fill="url(#rtSide)"/>
<ellipse cx="673.6" cy="111.8" rx="23.3" ry="11.4" fill="url(#rtTop)" stroke="#a7b8c1" stroke-width="0.6"/>
<g fill="#fff" opacity="0.95">
<path d="M657.6 111.8 l5.2 -2.7 v1.7 h7.4 v2.0 h-7.4 v1.7 z"/>
<path d="M689.6 111.8 l-5.2 -2.7 v1.7 h-7.4 v2.0 h7.4 v1.7 z"/>
<path d="M673.6 104.2 l2.6 2.6 h-1.5 v3.4 h-2.2 v-3.4 h-1.5 z"/>
<path d="M673.6 113.4 l2.6 2.6 h-1.5 v3.4 h-2.2 v-3.4 h-1.5 z"/>
</g>
<text x="673.6" y="128.3" font-size="3.2" fill="#e4ecf0" font-weight="bold" text-anchor="middle" font-family='"Liberation Sans","Noto Sans CJK SC",sans-serif' >IPv6</text>
<path d="M703.0 139.8 v6.3 a23.3 11.4 0 0 0 46.6 0 v-6.3 z" fill="url(#rtSide)"/>
<ellipse cx="726.3" cy="139.8" rx="23.3" ry="11.4" fill="url(#rtTop)" stroke="#a7b8c1" stroke-width="0.6"/>
<g fill="#fff" opacity="0.95">
<path d="M710.3 139.8 l5.2 -2.7 v1.7 h7.4 v2.0 h-7.4 v1.7 z"/>
<path d="M742.3 139.8 l-5.2 -2.7 v1.7 h-7.4 v2.0 h7.4 v1.7 z"/>
<path d="M726.3 132.2 l2.6 2.6 h-1.5 v3.4 h-2.2 v-3.4 h-1.5 z"/>
<path d="M726.3 141.4 l2.6 2.6 h-1.5 v3.4 h-2.2 v-3.4 h-1.5 z"/>
</g>
<text x="726.3" y="156.3" font-size="3.2" fill="#e4ecf0" font-weight="bold" text-anchor="middle" font-family='"Liberation Sans","Noto Sans CJK SC",sans-serif' >IPv6</text>
<path d="M761.0 168.0 v6.3 a23.3 11.4 0 0 0 46.6 0 v-6.3 z" fill="url(#rtSide)"/>
<ellipse cx="784.3" cy="168.0" rx="23.3" ry="11.4" fill="url(#rtTop)" stroke="#a7b8c1" stroke-width="0.6"/>
<g fill="#fff" opacity="0.95">
<path d="M768.3 168.0 l5.2 -2.7 v1.7 h7.4 v2.0 h-7.4 v1.7 z"/>
<path d="M800.3 168.0 l-5.2 -2.7 v1.7 h-7.4 v2.0 h7.4 v1.7 z"/>
<path d="M784.3 160.4 l2.6 2.6 h-1.5 v3.4 h-2.2 v-3.4 h-1.5 z"/>
<path d="M784.3 169.6 l2.6 2.6 h-1.5 v3.4 h-2.2 v-3.4 h-1.5 z"/>
</g>
<text x="784.3" y="184.5" font-size="3.2" fill="#e4ecf0" font-weight="bold" text-anchor="middle" font-family='"Liberation Sans","Noto Sans CJK SC",sans-serif' >IPv6</text>
<path d="M818.7 196.3 v6.3 a23.3 11.4 0 0 0 46.6 0 v-6.3 z" fill="url(#rtSide)"/>
<ellipse cx="842.0" cy="196.3" rx="23.3" ry="11.4" fill="url(#rtTop)" stroke="#a7b8c1" stroke-width="0.6"/>
<g fill="#fff" opacity="0.95">
<path d="M826.0 196.3 l5.2 -2.7 v1.7 h7.4 v2.0 h-7.4 v1.7 z"/>
<path d="M858.0 196.3 l-5.2 -2.7 v1.7 h-7.4 v2.0 h7.4 v1.7 z"/>
<path d="M842.0 188.7 l2.6 2.6 h-1.5 v3.4 h-2.2 v-3.4 h-1.5 z"/>
<path d="M842.0 197.9 l2.6 2.6 h-1.5 v3.4 h-2.2 v-3.4 h-1.5 z"/>
</g>
<text x="842.0" y="212.8" font-size="3.2" fill="#e4ecf0" font-weight="bold" text-anchor="middle" font-family='"Liberation Sans","Noto Sans CJK SC",sans-serif' >IPv6</text>
<path d="M851.9 76.5 v4.6 a14.3 7.0 0 0 0 28.6 0 v-4.6 z" fill="url(#rtSide)"/>
<ellipse cx="866.2" cy="76.5" rx="14.3" ry="7.0" fill="url(#rtTop)" stroke="#a7b8c1" stroke-width="0.6"/>
<g fill="#fff" opacity="0.95">
<path d="M856.6 76.5 l3.1 -1.6 v1.0 h4.4 v1.2 h-4.4 v1.0 z"/>
<path d="M875.8 76.5 l-3.1 -1.6 v1.0 h-4.4 v1.2 h4.4 v1.0 z"/>
<path d="M866.2 71.9 l1.6 1.6 h-0.9 v2.0 h-1.3 v-2.0 h-0.9 z"/>
<path d="M866.2 77.5 l1.6 1.6 h-0.9 v2.0 h-1.3 v-2.0 h-0.9 z"/>
</g>
<path d="M901.2 96.5 v4.6 a14.3 7.0 0 0 0 28.6 0 v-4.6 z" fill="url(#rtSide)"/>
<ellipse cx="915.5" cy="96.5" rx="14.3" ry="7.0" fill="url(#rtTop)" stroke="#a7b8c1" stroke-width="0.6"/>
<g fill="#fff" opacity="0.95">
<path d="M905.9 96.5 l3.1 -1.6 v1.0 h4.4 v1.2 h-4.4 v1.0 z"/>
<path d="M925.1 96.5 l-3.1 -1.6 v1.0 h-4.4 v1.2 h4.4 v1.0 z"/>
<path d="M915.5 91.9 l1.6 1.6 h-0.9 v2.0 h-1.3 v-2.0 h-0.9 z"/>
<path d="M915.5 97.5 l1.6 1.6 h-0.9 v2.0 h-1.3 v-2.0 h-0.9 z"/>
</g>
<path d="M948.7 125.5 v4.6 a14.3 7.0 0 0 0 28.6 0 v-4.6 z" fill="url(#rtSide)"/>
<ellipse cx="963.0" cy="125.5" rx="14.3" ry="7.0" fill="url(#rtTop)" stroke="#a7b8c1" stroke-width="0.6"/>
<g fill="#fff" opacity="0.95">
<path d="M953.4 125.5 l3.1 -1.6 v1.0 h4.4 v1.2 h-4.4 v1.0 z"/>
<path d="M972.6 125.5 l-3.1 -1.6 v1.0 h-4.4 v1.2 h4.4 v1.0 z"/>
<path d="M963.0 120.9 l1.6 1.6 h-0.9 v2.0 h-1.3 v-2.0 h-0.9 z"/>
<path d="M963.0 126.5 l1.6 1.6 h-0.9 v2.0 h-1.3 v-2.0 h-0.9 z"/>
</g>
<polygon points="850.0,25.2 859.9,27.9 859.9,42.1 850.0,39.4" fill="url(#svFront)" />
<polygon points="859.9,27.9 874.3,19.8 874.3,34.0 859.9,42.1" fill="#1d4456" />
<polygon points="867.0,17.1 874.3,19.8 859.9,27.9 850.0,25.2" fill="#8fa3af" />
<g stroke="#4d6a7a" stroke-width="0.7" fill="none">
<line x1="851.0" y1="28.5" x2="858.9" y2="30.9"/>
<line x1="851.0" y1="31.0" x2="858.9" y2="33.4"/>
<line x1="851.0" y1="33.5" x2="858.9" y2="35.9"/>
</g>
<path d="M861.6 35.6 v5 a3.7 1.7 0 0 0 7.4 0 v-5 z" fill="#6b8796"/>
<ellipse cx="865.3" cy="35.6" rx="3.7" ry="1.7" fill="#a9bbc5"/>
<polygon points="903.0,54.2 912.9,56.9 912.9,71.1 903.0,68.4" fill="url(#svFront)" />
<polygon points="912.9,56.9 927.3,48.8 927.3,63.0 912.9,71.1" fill="#1d4456" />
<polygon points="920.0,46.1 927.3,48.8 912.9,56.9 903.0,54.2" fill="#8fa3af" />
<g stroke="#4d6a7a" stroke-width="0.7" fill="none">
<line x1="904.0" y1="57.5" x2="911.9" y2="59.9"/>
<line x1="904.0" y1="60.0" x2="911.9" y2="62.4"/>
<line x1="904.0" y1="62.5" x2="911.9" y2="64.9"/>
</g>
<path d="M914.6 64.6 v5 a3.7 1.7 0 0 0 7.4 0 v-5 z" fill="#6b8796"/>
<ellipse cx="918.3" cy="64.6" rx="3.7" ry="1.7" fill="#a9bbc5"/>
<polygon points="953.0,81.2 962.9,83.9 962.9,98.1 953.0,95.4" fill="url(#svFront)" />
<polygon points="962.9,83.9 977.3,75.8 977.3,90.0 962.9,98.1" fill="#1d4456" />
<polygon points="970.0,73.1 977.3,75.8 962.9,83.9 953.0,81.2" fill="#8fa3af" />
<g stroke="#4d6a7a" stroke-width="0.7" fill="none">
<line x1="954.0" y1="84.5" x2="961.9" y2="86.9"/>
<line x1="954.0" y1="87.0" x2="961.9" y2="89.4"/>
<line x1="954.0" y1="89.5" x2="961.9" y2="91.9"/>
</g>
<path d="M964.6 91.6 v5 a3.7 1.7 0 0 0 7.4 0 v-5 z" fill="#6b8796"/>
<ellipse cx="968.3" cy="91.6" rx="3.7" ry="1.7" fill="#a9bbc5"/>
<polygon points="649.5,150.2 667.5,156.0 649.5,161.8 631.5,156.0" fill="url(#gSide)" stroke="url(#gSide)" stroke-linejoin="round" stroke-width="6.0"/>
<rect x="628.5" y="151.0" width="42.0" height="5.0" fill="url(#gSide)"/>
<polygon points="649.5,145.2 667.5,151.0 649.5,156.8 631.5,151.0" fill="url(#gTop)" stroke="url(#gTop)" stroke-linejoin="round" stroke-width="6.0"/>
<g fill="#fff" opacity="1">
<rect x="641.11" y="146.39" width="2.18" height="8.62"/>
<rect x="655.71" y="146.39" width="2.18" height="8.62"/>
<rect x="644.21" y="148.51" width="10.58" height="1.26"/>
<rect x="644.21" y="151.62" width="10.58" height="1.26"/>
</g>
<polygon points="603.5,179.5 626.0,186.0 603.5,192.5 581.0,186.0" fill="url(#bSide)" stroke="url(#bSide)" stroke-linejoin="round" stroke-width="7.0"/>
<rect x="577.5" y="178.0" width="52.0" height="8.0" fill="url(#bSide)"/>
<polygon points="603.5,171.5 626.0,178.0 603.5,184.5 581.0,178.0" fill="url(#bTop)" stroke="url(#bTop)" stroke-linejoin="round" stroke-width="7.0"/>
<g fill="#fff" opacity="1">
<rect x="593.28" y="172.45" width="2.66" height="10.50"/>
<rect x="611.06" y="172.45" width="2.66" height="10.50"/>
<rect x="597.06" y="175.04" width="12.88" height="1.54"/>
<rect x="597.06" y="178.82" width="12.88" height="1.54"/>
</g>
<polygon points="666.0,188.8 683.0,194.5 666.0,200.2 649.0,194.5" fill="url(#gSide)" stroke="url(#gSide)" stroke-linejoin="round" stroke-width="6.0"/>
<rect x="646.0" y="189.5" width="40.0" height="5.0" fill="url(#gSide)"/>
<polygon points="666.0,183.8 683.0,189.5 666.0,195.2 649.0,189.5" fill="url(#gTop)" stroke="url(#gTop)" stroke-linejoin="round" stroke-width="6.0"/>
<g fill="#fff" opacity="1">
<rect x="657.97" y="185.07" width="2.09" height="8.25"/>
<rect x="671.94" y="185.07" width="2.09" height="8.25"/>
<rect x="660.94" y="187.11" width="10.12" height="1.21"/>
<rect x="660.94" y="190.08" width="10.12" height="1.21"/>
</g>
<polygon points="757.5,207.1 772.9,212.5 757.5,217.9 742.1,212.5" fill="url(#gSide)" stroke="url(#gSide)" stroke-linejoin="round" stroke-width="5.2"/>
<rect x="739.5" y="208.5" width="36.0" height="4.0" fill="url(#gSide)"/>
<polygon points="757.5,203.1 772.9,208.5 757.5,213.9 742.1,208.5" fill="url(#gTop)" stroke="url(#gTop)" stroke-linejoin="round" stroke-width="5.2"/>
<g fill="#fff" opacity="1">
<rect x="750.20" y="204.45" width="1.90" height="7.50"/>
<rect x="762.90" y="204.45" width="1.90" height="7.50"/>
<rect x="752.90" y="206.30" width="9.20" height="1.10"/>
<rect x="752.90" y="209.00" width="9.20" height="1.10"/>
</g>
<polygon points="632.5,268.8 658.0,276.5 632.5,284.2 607.0,276.5" fill="url(#bSide)" stroke="url(#bSide)" stroke-linejoin="round" stroke-width="8.0"/>
<rect x="603.0" y="267.5" width="59.0" height="9.0" fill="url(#bSide)"/>
<polygon points="632.5,259.8 658.0,267.5 632.5,275.2 607.0,267.5" fill="url(#bTop)" stroke="url(#bTop)" stroke-linejoin="round" stroke-width="8.0"/>
<g fill="#fff" opacity="1">
<rect x="621.18" y="261.39" width="2.94" height="11.62"/>
<rect x="640.87" y="261.39" width="2.94" height="11.62"/>
<rect x="625.37" y="264.25" width="14.26" height="1.71"/>
<rect x="625.37" y="268.44" width="14.26" height="1.71"/>
</g>
<polygon points="695.3,221.5 715.8,228.8 695.3,236.0 674.8,228.8" fill="url(#gSide2)" stroke="url(#gSide2)" stroke-linejoin="round" stroke-width="8.0"/>
<rect x="670.8" y="211.8" width="49.0" height="17.0" fill="url(#gSide2)"/>
<polyline points="671.0,216.6 674.4,220.0 695.3,227.5 716.2,220.0 719.6,216.6" fill="none" stroke="#c9d5db" stroke-width="1.0" stroke-linejoin="round"/>
<polygon points="695.3,204.5 715.8,211.8 695.3,219.0 674.8,211.8" fill="url(#gTop2)" stroke="url(#gTop2)" stroke-linejoin="round" stroke-width="8.0"/>
<g stroke="#e3e9ed" fill="#e3e9ed" stroke-width="1.70" stroke-linecap="butt" opacity="0.92">
<line x1="697.5" y1="211.6" x2="704.5" y2="211.3"/>
<polygon points="707.7,211.2 704.6,213.2 704.4,209.4" stroke="none"/>
<line x1="693.1" y1="211.9" x2="686.1" y2="212.2"/>
<polygon points="682.9,212.3 686.0,210.3 686.2,214.1" stroke="none"/>
<line x1="696.9" y1="210.2" x2="699.0" y2="208.3"/>
<polygon points="701.3,206.2 700.3,209.7 697.7,206.9" stroke="none"/>
<line x1="693.7" y1="210.2" x2="691.6" y2="208.3"/>
<polygon points="689.3,206.2 692.9,206.9 690.3,209.7" stroke="none"/>
<line x1="696.9" y1="213.2" x2="699.1" y2="215.2"/>
<polygon points="701.5,217.3 697.9,216.6 700.4,213.8" stroke="none"/>
<line x1="693.7" y1="213.2" x2="691.5" y2="215.2"/>
<polygon points="689.1,217.3 690.2,213.8 692.7,216.6" stroke="none"/>
</g>
<g stroke="#dfe7eb" stroke-width="0.8" fill="none" opacity="0.85">
<path d="M675.6 220.8 l3.6 1.4 l7.2 7.2 l3.6 1.4"/>
<path d="M675.6 227.2 l3.6 1.4 l7.2 -2.7 l3.6 1.4"/>
</g>
<polygon points="765.0,250.5 785.5,257.8 765.0,265.0 744.5,257.8" fill="url(#gSide2)" stroke="url(#gSide2)" stroke-linejoin="round" stroke-width="8.0"/>
<rect x="740.5" y="240.8" width="49.0" height="17.0" fill="url(#gSide2)"/>
<polyline points="740.7,245.6 744.1,249.0 765.0,256.5 785.9,249.0 789.3,245.6" fill="none" stroke="#c9d5db" stroke-width="1.0" stroke-linejoin="round"/>
<polygon points="765.0,233.5 785.5,240.8 765.0,248.0 744.5,240.8" fill="url(#gTop2)" stroke="url(#gTop2)" stroke-linejoin="round" stroke-width="8.0"/>
<g stroke="#e3e9ed" fill="#e3e9ed" stroke-width="1.70" stroke-linecap="butt" opacity="0.92">
<line x1="767.2" y1="240.6" x2="774.2" y2="240.3"/>
<polygon points="777.4,240.2 774.3,242.2 774.1,238.4" stroke="none"/>
<line x1="762.8" y1="240.9" x2="755.8" y2="241.2"/>
<polygon points="752.6,241.3 755.7,239.3 755.9,243.1" stroke="none"/>
<line x1="766.6" y1="239.2" x2="768.7" y2="237.3"/>
<polygon points="771.0,235.2 770.0,238.7 767.4,235.9" stroke="none"/>
<line x1="763.4" y1="239.2" x2="761.3" y2="237.3"/>
<polygon points="759.0,235.2 762.6,235.9 760.0,238.7" stroke="none"/>
<line x1="766.6" y1="242.2" x2="768.8" y2="244.2"/>
<polygon points="771.2,246.3 767.6,245.6 770.1,242.8" stroke="none"/>
<line x1="763.4" y1="242.2" x2="761.2" y2="244.2"/>
<polygon points="758.8,246.3 759.9,242.8 762.4,245.6" stroke="none"/>
</g>
<g stroke="#dfe7eb" stroke-width="0.8" fill="none" opacity="0.85">
<path d="M745.3 249.8 l3.6 1.4 l7.2 7.2 l3.6 1.4"/>
<path d="M745.3 256.1 l3.6 1.4 l7.2 -2.7 l3.6 1.4"/>
</g>
<polygon points="528.5,229.5 556.0,237.2 528.5,245.0 501.0,237.2" fill="url(#bSide2)" stroke="url(#bSide2)" stroke-linejoin="round" stroke-width="10.0"/>
<rect x="496.0" y="215.8" width="65.0" height="21.5" fill="url(#bSide2)"/>
<polyline points="496.2,222.8 500.5,227.0 528.5,235.2 556.5,227.0 560.8,222.8" fill="none" stroke="#cddbe1" stroke-width="1.0" stroke-linejoin="round"/>
<polygon points="528.5,208.0 556.0,215.8 528.5,223.5 501.0,215.8" fill="url(#bTop2)" stroke="url(#bTop2)" stroke-linejoin="round" stroke-width="10.0"/>
<g stroke="#dfe7eb" stroke-width="0.8" fill="none" opacity="0.85">
<path d="M502.0 227.2 l4.0 1.6 l8.0 8.0 l4.0 1.6"/>
<path d="M502.0 234.2 l4.0 1.6 l8.0 -3.0 l4.0 1.6"/>
</g>
<polygon points="532.0,208.0 553.0,213.8 532.0,219.5 511.0,213.8" fill="url(#rSide)" stroke="url(#rSide)" stroke-linejoin="round" stroke-width="8.0"/>
<rect x="507.0" y="202.2" width="50.0" height="11.5" fill="url(#rSide)"/>
<polyline points="507.2,205.7 510.6,209.1 532.0,215.1 553.4,209.1 556.8,205.7" fill="none" stroke="#dcb0ad" stroke-width="0.9" stroke-linejoin="round"/>
<polygon points="532.0,196.5 553.0,202.2 532.0,208.0 511.0,202.2" fill="url(#rTop)" stroke="url(#rTop)" stroke-linejoin="round" stroke-width="8.0"/>
<g stroke="#ecc0bc" fill="#ecc0bc" stroke-width="1.56" stroke-linecap="butt" opacity="0.85">
<line x1="534.0" y1="202.2" x2="540.5" y2="201.8"/>
<polygon points="543.4,201.7 540.6,203.6 540.4,200.1" stroke="none"/>
<line x1="530.0" y1="202.3" x2="523.5" y2="202.7"/>
<polygon points="520.6,202.8 523.4,200.9 523.6,204.4" stroke="none"/>
<line x1="533.5" y1="200.9" x2="535.4" y2="199.1"/>
<polygon points="537.5,197.1 536.6,200.4 534.2,197.8" stroke="none"/>
<line x1="530.5" y1="200.9" x2="528.6" y2="199.1"/>
<polygon points="526.5,197.1 529.8,197.8 527.4,200.4" stroke="none"/>
<line x1="533.5" y1="203.6" x2="535.5" y2="205.4"/>
<polygon points="537.7,207.4 534.3,206.7 536.7,204.1" stroke="none"/>
<line x1="530.5" y1="203.6" x2="528.5" y2="205.4"/>
<polygon points="526.3,207.4 527.3,204.1 529.7,206.7" stroke="none"/>
</g>
<g stroke="#d9a19d" stroke-width="0.8" fill="none" opacity="0.85">
<path d="M514.0 207.8 l3.0 1.2 l6.0 6.0 l3.0 1.2"/>
<path d="M514.0 213.0 l3.0 1.2 l6.0 -2.2 l3.0 1.2"/>
</g>
<polygon points="449.0,274.5 476.5,282.2 449.0,290.0 421.5,282.2" fill="url(#bSide2)" stroke="url(#bSide2)" stroke-linejoin="round" stroke-width="10.0"/>
<rect x="416.5" y="260.8" width="65.0" height="21.5" fill="url(#bSide2)"/>
<polyline points="416.7,267.8 421.0,272.0 449.0,280.2 477.0,272.0 481.3,267.8" fill="none" stroke="#cddbe1" stroke-width="1.0" stroke-linejoin="round"/>
<polygon points="449.0,253.0 476.5,260.8 449.0,268.5 421.5,260.8" fill="url(#bTop2)" stroke="url(#bTop2)" stroke-linejoin="round" stroke-width="10.0"/>
<g stroke="#dfe7eb" stroke-width="0.8" fill="none" opacity="0.85">
<path d="M422.5 272.2 l4.0 1.6 l8.0 8.0 l4.0 1.6"/>
<path d="M422.5 279.2 l4.0 1.6 l8.0 -3.0 l4.0 1.6"/>
</g>
<polygon points="452.5,253.0 473.5,258.8 452.5,264.5 431.5,258.8" fill="url(#rSide)" stroke="url(#rSide)" stroke-linejoin="round" stroke-width="8.0"/>
<rect x="427.5" y="247.2" width="50.0" height="11.5" fill="url(#rSide)"/>
<polyline points="427.7,250.7 431.1,254.1 452.5,260.1 473.9,254.1 477.3,250.7" fill="none" stroke="#dcb0ad" stroke-width="0.9" stroke-linejoin="round"/>
<polygon points="452.5,241.5 473.5,247.2 452.5,253.0 431.5,247.2" fill="url(#rTop)" stroke="url(#rTop)" stroke-linejoin="round" stroke-width="8.0"/>
<g stroke="#ecc0bc" fill="#ecc0bc" stroke-width="1.56" stroke-linecap="butt" opacity="0.85">
<line x1="454.5" y1="247.2" x2="461.0" y2="246.8"/>
<polygon points="463.9,246.7 461.1,248.6 460.9,245.1" stroke="none"/>
<line x1="450.5" y1="247.3" x2="444.0" y2="247.7"/>
<polygon points="441.1,247.8 443.9,245.9 444.1,249.4" stroke="none"/>
<line x1="454.0" y1="245.9" x2="455.9" y2="244.1"/>
<polygon points="458.0,242.1 457.1,245.4 454.7,242.8" stroke="none"/>
<line x1="451.0" y1="245.9" x2="449.1" y2="244.1"/>
<polygon points="447.0,242.1 450.3,242.8 447.9,245.4" stroke="none"/>
<line x1="454.0" y1="248.6" x2="456.0" y2="250.4"/>
<polygon points="458.2,252.4 454.8,251.7 457.2,249.1" stroke="none"/>
<line x1="451.0" y1="248.6" x2="449.0" y2="250.4"/>
<polygon points="446.8,252.4 447.8,249.1 450.2,251.7" stroke="none"/>
</g>
<g stroke="#d9a19d" stroke-width="0.8" fill="none" opacity="0.85">
<path d="M434.5 252.8 l3.0 1.2 l6.0 6.0 l3.0 1.2"/>
<path d="M434.5 258.0 l3.0 1.2 l6.0 -2.2 l3.0 1.2"/>
</g>
<polygon points="557.0,327.0 584.5,334.8 557.0,342.5 529.5,334.8" fill="url(#bSide2)" stroke="url(#bSide2)" stroke-linejoin="round" stroke-width="10.0"/>
<rect x="524.5" y="313.2" width="65.0" height="21.5" fill="url(#bSide2)"/>
<polyline points="524.7,320.2 529.0,324.5 557.0,332.7 585.0,324.5 589.3,320.2" fill="none" stroke="#cddbe1" stroke-width="1.0" stroke-linejoin="round"/>
<polygon points="557.0,305.5 584.5,313.2 557.0,321.0 529.5,313.2" fill="url(#bTop2)" stroke="url(#bTop2)" stroke-linejoin="round" stroke-width="10.0"/>
<g stroke="#dfe7eb" stroke-width="0.8" fill="none" opacity="0.85">
<path d="M530.5 324.8 l4.0 1.6 l8.0 8.0 l4.0 1.6"/>
<path d="M530.5 331.8 l4.0 1.6 l8.0 -3.0 l4.0 1.6"/>
</g>
<polygon points="560.5,305.5 581.5,311.2 560.5,317.0 539.5,311.2" fill="url(#rSide)" stroke="url(#rSide)" stroke-linejoin="round" stroke-width="8.0"/>
<rect x="535.5" y="299.8" width="50.0" height="11.5" fill="url(#rSide)"/>
<polyline points="535.7,303.1 539.1,306.5 560.5,312.6 581.9,306.5 585.3,303.1" fill="none" stroke="#dcb0ad" stroke-width="0.9" stroke-linejoin="round"/>
<polygon points="560.5,294.0 581.5,299.8 560.5,305.5 539.5,299.8" fill="url(#rTop)" stroke="url(#rTop)" stroke-linejoin="round" stroke-width="8.0"/>
<g stroke="#ecc0bc" fill="#ecc0bc" stroke-width="1.56" stroke-linecap="butt" opacity="0.85">
<line x1="562.5" y1="299.7" x2="569.0" y2="299.3"/>
<polygon points="571.9,299.2 569.1,301.1 568.9,297.6" stroke="none"/>
<line x1="558.5" y1="299.8" x2="552.0" y2="300.2"/>
<polygon points="549.1,300.3 551.9,298.4 552.1,301.9" stroke="none"/>
<line x1="562.0" y1="298.4" x2="563.9" y2="296.6"/>
<polygon points="566.0,294.6 565.1,297.9 562.7,295.3" stroke="none"/>
<line x1="559.0" y1="298.4" x2="557.1" y2="296.6"/>
<polygon points="555.0,294.6 558.3,295.3 555.9,297.9" stroke="none"/>
<line x1="562.0" y1="301.1" x2="564.0" y2="302.9"/>
<polygon points="566.2,304.9 562.8,304.2 565.2,301.6" stroke="none"/>
<line x1="559.0" y1="301.1" x2="557.0" y2="302.9"/>
<polygon points="554.8,304.9 555.8,301.6 558.2,304.2" stroke="none"/>
</g>
<g stroke="#d9a19d" stroke-width="0.8" fill="none" opacity="0.85">
<path d="M542.5 305.2 l3.0 1.2 l6.0 6.0 l3.0 1.2"/>
<path d="M542.5 310.5 l3.0 1.2 l6.0 -2.2 l3.0 1.2"/>
</g>
<polygon points="402.5,317.5 410.5,307.5 431.5,307.0 440.5,316.5 433.5,326.0 411.5,327.0" fill="#73848f" stroke="#73848f" stroke-width="2" stroke-linejoin="round"/>
<polygon points="402.5,313.5 410.5,303.5 431.5,303.0 440.5,312.5 433.5,322.0 411.5,323.0" fill="#a3b0b8" stroke="#a3b0b8" stroke-width="2" stroke-linejoin="round"/>
<ellipse cx="421.5" cy="312.8" rx="14.5" ry="6.8" fill="#862a27"/>
<ellipse cx="421.5" cy="312.1" rx="13.5" ry="5.8" fill="#a63e39"/>
<path d="M418.5 309.8 a3.8 3 0 1 0 1.5 4.6" fill="none" stroke="#e6a39b" stroke-width="1.5"/>
<path d="M428.5 309.8 a3.8 3 0 1 0 1.5 4.6" fill="none" stroke="#e6a39b" stroke-width="1.5"/>
<polygon points="839.0,241.5 847.0,231.5 868.0,231.0 877.0,240.5 870.0,250.0 848.0,251.0" fill="#73848f" stroke="#73848f" stroke-width="2" stroke-linejoin="round"/>
<polygon points="839.0,237.5 847.0,227.5 868.0,227.0 877.0,236.5 870.0,246.0 848.0,247.0" fill="#a3b0b8" stroke="#a3b0b8" stroke-width="2" stroke-linejoin="round"/>
<ellipse cx="858.0" cy="236.8" rx="14.5" ry="6.8" fill="#862a27"/>
<ellipse cx="858.0" cy="236.1" rx="13.5" ry="5.8" fill="#a63e39"/>
<path d="M855.0 233.8 a3.8 3 0 1 0 1.5 4.6" fill="none" stroke="#e6a39b" stroke-width="1.5"/>
<path d="M865.0 233.8 a3.8 3 0 1 0 1.5 4.6" fill="none" stroke="#e6a39b" stroke-width="1.5"/>
<polygon points="810.0,252.2 835.5,261.9 835.5,277.4 810.0,267.7" fill="url(#svFront)" />
<polygon points="835.5,261.9 856.5,252.9 856.5,268.4 835.5,277.4" fill="#1d4456" />
<polygon points="830.5,243.4 856.5,252.9 835.5,261.9 810.0,252.2" fill="#93a6b2" />
<g stroke="#4d6a7a" stroke-width="0.8" fill="none">
<line x1="818.0" y1="255.4" x2="818.0" y2="270.9"/>
<line x1="819.5" y1="256.0" x2="819.5" y2="271.5"/>
<line x1="810.0" y1="256.7" x2="835.5" y2="266.4"/>
</g>
<polygon points="822.0,265.9 833.0,269.9 833.0,272.4 822.0,268.4" fill="#9db0bb" />
<text transform="matrix(1,-0.42,0,1,838.7,275.2)" font-size="6.8" font-weight="bold" fill="#fff" stroke="#fff" stroke-width="0.25" font-family='"Liberation Sans","Noto Sans CJK SC",sans-serif'>SAM</text>
<polygon points="849.0,273.8 874.5,283.5 874.5,299.0 849.0,289.3" fill="url(#svFront)" />
<polygon points="874.5,283.5 895.5,274.5 895.5,290.0 874.5,299.0" fill="#1d4456" />
<polygon points="869.5,265.0 895.5,274.5 874.5,283.5 849.0,273.8" fill="#93a6b2" />
<g stroke="#4d6a7a" stroke-width="0.8" fill="none">
<line x1="857.0" y1="277.0" x2="857.0" y2="292.5"/>
<line x1="858.5" y1="277.6" x2="858.5" y2="293.1"/>
<line x1="849.0" y1="278.3" x2="874.5" y2="288.0"/>
</g>
<polygon points="861.0,287.5 872.0,291.5 872.0,294.0 861.0,290.0" fill="#9db0bb" />
<text transform="matrix(1,-0.42,0,1,877.7,296.8)" font-size="6.8" font-weight="bold" fill="#fff" stroke="#fff" stroke-width="0.25" font-family='"Liberation Sans","Noto Sans CJK SC",sans-serif'>SAM</text>
<polygon points="298.5,311.6 316.2,317.5 298.5,323.4 280.8,317.5" fill="url(#gSide)" stroke="url(#gSide)" stroke-linejoin="round" stroke-width="5.6"/>
<rect x="278.0" y="301.5" width="41.0" height="16.0" fill="url(#gSide)"/>
<polyline points="278.2,306.1 280.5,308.5 298.5,314.6 316.5,308.5 318.8,306.1" fill="none" stroke="#bfccd3" stroke-width="1.1" stroke-linejoin="round"/>
<polyline points="278.2,311.7 280.5,314.1 298.5,320.2 316.5,314.1 318.8,311.7" fill="none" stroke="#bfccd3" stroke-width="1.1" stroke-linejoin="round"/>
<polygon points="298.5,295.6 316.2,301.5 298.5,307.4 280.8,301.5" fill="url(#gTop)" stroke="url(#gTop)" stroke-linejoin="round" stroke-width="5.6"/>
<g fill="#fff" opacity="1">
<rect x="290.32" y="297.10" width="2.13" height="8.40"/>
<rect x="304.55" y="297.10" width="2.13" height="8.40"/>
<rect x="293.35" y="299.17" width="10.30" height="1.23"/>
<rect x="293.35" y="302.20" width="10.30" height="1.23"/>
</g>
<polygon points="340.5,329.6 358.2,335.5 340.5,341.4 322.8,335.5" fill="url(#gSide)" stroke="url(#gSide)" stroke-linejoin="round" stroke-width="5.6"/>
<rect x="320.0" y="319.5" width="41.0" height="16.0" fill="url(#gSide)"/>
<polyline points="320.2,324.1 322.5,326.5 340.5,332.6 358.5,326.5 360.8,324.1" fill="none" stroke="#bfccd3" stroke-width="1.1" stroke-linejoin="round"/>
<polyline points="320.2,329.7 322.5,332.1 340.5,338.2 358.5,332.1 360.8,329.7" fill="none" stroke="#bfccd3" stroke-width="1.1" stroke-linejoin="round"/>
<polygon points="340.5,313.6 358.2,319.5 340.5,325.4 322.8,319.5" fill="url(#gTop)" stroke="url(#gTop)" stroke-linejoin="round" stroke-width="5.6"/>
<g fill="#fff" opacity="1">
<rect x="332.32" y="315.10" width="2.13" height="8.40"/>
<rect x="346.55" y="315.10" width="2.13" height="8.40"/>
<rect x="335.35" y="317.17" width="10.30" height="1.23"/>
<rect x="335.35" y="320.20" width="10.30" height="1.23"/>
</g>
<polygon points="380.5,347.1 398.2,353.0 380.5,358.9 362.8,353.0" fill="url(#gSide)" stroke="url(#gSide)" stroke-linejoin="round" stroke-width="5.6"/>
<rect x="360.0" y="337.0" width="41.0" height="16.0" fill="url(#gSide)"/>
<polyline points="360.2,341.6 362.5,344.0 380.5,350.1 398.5,344.0 400.8,341.6" fill="none" stroke="#bfccd3" stroke-width="1.1" stroke-linejoin="round"/>
<polyline points="360.2,347.2 362.5,349.6 380.5,355.7 398.5,349.6 400.8,347.2" fill="none" stroke="#bfccd3" stroke-width="1.1" stroke-linejoin="round"/>
<polygon points="380.5,331.1 398.2,337.0 380.5,342.9 362.8,337.0" fill="url(#gTop)" stroke="url(#gTop)" stroke-linejoin="round" stroke-width="5.6"/>
<g fill="#fff" opacity="1">
<rect x="372.32" y="332.60" width="2.13" height="8.40"/>
<rect x="386.55" y="332.60" width="2.13" height="8.40"/>
<rect x="375.35" y="334.67" width="10.30" height="1.23"/>
<rect x="375.35" y="337.70" width="10.30" height="1.23"/>
</g>
<polygon points="421.5,364.6 439.2,370.5 421.5,376.4 403.8,370.5" fill="url(#gSide)" stroke="url(#gSide)" stroke-linejoin="round" stroke-width="5.6"/>
<rect x="401.0" y="354.5" width="41.0" height="16.0" fill="url(#gSide)"/>
<polyline points="401.2,359.1 403.5,361.5 421.5,367.6 439.5,361.5 441.8,359.1" fill="none" stroke="#bfccd3" stroke-width="1.1" stroke-linejoin="round"/>
<polyline points="401.2,364.7 403.5,367.1 421.5,373.2 439.5,367.1 441.8,364.7" fill="none" stroke="#bfccd3" stroke-width="1.1" stroke-linejoin="round"/>
<polygon points="421.5,348.6 439.2,354.5 421.5,360.4 403.8,354.5" fill="url(#gTop)" stroke="url(#gTop)" stroke-linejoin="round" stroke-width="5.6"/>
<g fill="#fff" opacity="1">
<rect x="413.32" y="350.10" width="2.13" height="8.40"/>
<rect x="427.55" y="350.10" width="2.13" height="8.40"/>
<rect x="416.35" y="352.17" width="10.30" height="1.23"/>
<rect x="416.35" y="355.20" width="10.30" height="1.23"/>
</g>
<polygon points="463.5,383.1 481.2,389.0 463.5,394.9 445.8,389.0" fill="url(#gSide)" stroke="url(#gSide)" stroke-linejoin="round" stroke-width="5.6"/>
<rect x="443.0" y="373.0" width="41.0" height="16.0" fill="url(#gSide)"/>
<polyline points="443.2,377.6 445.5,380.0 463.5,386.1 481.5,380.0 483.8,377.6" fill="none" stroke="#bfccd3" stroke-width="1.1" stroke-linejoin="round"/>
<polyline points="443.2,383.2 445.5,385.6 463.5,391.7 481.5,385.6 483.8,383.2" fill="none" stroke="#bfccd3" stroke-width="1.1" stroke-linejoin="round"/>
<polygon points="463.5,367.1 481.2,373.0 463.5,378.9 445.8,373.0" fill="url(#gTop)" stroke="url(#gTop)" stroke-linejoin="round" stroke-width="5.6"/>
<g fill="#fff" opacity="1">
<rect x="455.32" y="368.60" width="2.13" height="8.40"/>
<rect x="469.55" y="368.60" width="2.13" height="8.40"/>
<rect x="458.35" y="370.67" width="10.30" height="1.23"/>
<rect x="458.35" y="373.70" width="10.30" height="1.23"/>
</g>
<polygon points="251.0,331.8 267.5,337.8 251.0,343.8 234.5,337.8" fill="url(#gSide)" stroke="url(#gSide)" stroke-linejoin="round" stroke-width="6.0"/>
<rect x="231.5" y="332.2" width="39.0" height="5.5" fill="url(#gSide)"/>
<polygon points="251.0,326.2 267.5,332.2 251.0,338.2 234.5,332.2" fill="url(#gTop)" stroke="url(#gTop)" stroke-linejoin="round" stroke-width="6.0"/>
<g fill="#fff" opacity="1">
<rect x="242.97" y="327.82" width="2.09" height="8.25"/>
<rect x="256.94" y="327.82" width="2.09" height="8.25"/>
<rect x="245.94" y="329.86" width="10.12" height="1.21"/>
<rect x="245.94" y="332.83" width="10.12" height="1.21"/>
</g>
<polygon points="289.5,349.8 306.0,355.8 289.5,361.8 273.0,355.8" fill="url(#gSide)" stroke="url(#gSide)" stroke-linejoin="round" stroke-width="6.0"/>
<rect x="270.0" y="350.2" width="39.0" height="5.5" fill="url(#gSide)"/>
<polygon points="289.5,344.2 306.0,350.2 289.5,356.2 273.0,350.2" fill="url(#gTop)" stroke="url(#gTop)" stroke-linejoin="round" stroke-width="6.0"/>
<g fill="#fff" opacity="1">
<rect x="281.47" y="345.82" width="2.09" height="8.25"/>
<rect x="295.44" y="345.82" width="2.09" height="8.25"/>
<rect x="284.44" y="347.86" width="10.12" height="1.21"/>
<rect x="284.44" y="350.83" width="10.12" height="1.21"/>
</g>
<polygon points="327.0,366.8 343.5,372.8 327.0,378.8 310.5,372.8" fill="url(#gSide)" stroke="url(#gSide)" stroke-linejoin="round" stroke-width="6.0"/>
<rect x="307.5" y="367.2" width="39.0" height="5.5" fill="url(#gSide)"/>
<polygon points="327.0,361.2 343.5,367.2 327.0,373.2 310.5,367.2" fill="url(#gTop)" stroke="url(#gTop)" stroke-linejoin="round" stroke-width="6.0"/>
<g fill="#fff" opacity="1">
<rect x="318.97" y="362.82" width="2.09" height="8.25"/>
<rect x="332.94" y="362.82" width="2.09" height="8.25"/>
<rect x="321.94" y="364.86" width="10.12" height="1.21"/>
<rect x="321.94" y="367.83" width="10.12" height="1.21"/>
</g>
<polygon points="368.5,384.8 385.0,390.8 368.5,396.8 352.0,390.8" fill="url(#gSide)" stroke="url(#gSide)" stroke-linejoin="round" stroke-width="6.0"/>
<rect x="349.0" y="385.2" width="39.0" height="5.5" fill="url(#gSide)"/>
<polygon points="368.5,379.2 385.0,385.2 368.5,391.2 352.0,385.2" fill="url(#gTop)" stroke="url(#gTop)" stroke-linejoin="round" stroke-width="6.0"/>
<g fill="#fff" opacity="1">
<rect x="360.47" y="380.82" width="2.09" height="8.25"/>
<rect x="374.44" y="380.82" width="2.09" height="8.25"/>
<rect x="363.44" y="382.86" width="10.12" height="1.21"/>
<rect x="363.44" y="385.83" width="10.12" height="1.21"/>
</g>
<polygon points="409.0,401.8 425.5,407.8 409.0,413.8 392.5,407.8" fill="url(#gSide)" stroke="url(#gSide)" stroke-linejoin="round" stroke-width="6.0"/>
<rect x="389.5" y="402.2" width="39.0" height="5.5" fill="url(#gSide)"/>
<polygon points="409.0,396.2 425.5,402.2 409.0,408.2 392.5,402.2" fill="url(#gTop)" stroke="url(#gTop)" stroke-linejoin="round" stroke-width="6.0"/>
<g fill="#fff" opacity="1">
<rect x="400.97" y="397.82" width="2.09" height="8.25"/>
<rect x="414.94" y="397.82" width="2.09" height="8.25"/>
<rect x="403.94" y="399.86" width="10.12" height="1.21"/>
<rect x="403.94" y="402.83" width="10.12" height="1.21"/>
</g>
<g fill="none" stroke-linecap="round">
<path d="M227.2 351.6 A11.5 5.2 0 0 0 239.1 357.7" stroke="url(#wfL)" stroke-width="3.1"/>
<path d="M221.1 351.0 A17.7 8.8 0 0 0 239.4 361.3" stroke="url(#wfL)" stroke-width="3.1"/>
<path d="M215.0 350.4 A23.9 12.4 0 0 0 239.7 364.9" stroke="url(#wfL)" stroke-width="3.1"/>
<path d="M208.9 349.8 A30.0 16.0 0 0 0 240.0 368.5" stroke="url(#wfL)" stroke-width="3.1"/>
</g>
<g fill="none" stroke-linecap="round">
<path d="M268.2 366.1 A11.5 5.2 0 0 0 280.1 372.2" stroke="url(#wfL)" stroke-width="3.1"/>
<path d="M262.1 365.5 A17.7 8.8 0 0 0 280.4 375.8" stroke="url(#wfL)" stroke-width="3.1"/>
<path d="M256.0 364.9 A23.9 12.4 0 0 0 280.7 379.4" stroke="url(#wfL)" stroke-width="3.1"/>
<path d="M249.9 364.3 A30.0 16.0 0 0 0 281.0 383.0" stroke="url(#wfL)" stroke-width="3.1"/>
</g>
<g fill="none" stroke-linecap="round">
<path d="M304.0 384.1 A11.5 5.2 0 0 0 315.9 390.2" stroke="url(#wfL)" stroke-width="3.1"/>
<path d="M297.9 383.5 A17.7 8.8 0 0 0 316.2 393.8" stroke="url(#wfL)" stroke-width="3.1"/>
<path d="M291.8 382.9 A23.9 12.4 0 0 0 316.5 397.4" stroke="url(#wfL)" stroke-width="3.1"/>
<path d="M285.8 382.3 A30.0 16.0 0 0 0 316.8 401.0" stroke="url(#wfL)" stroke-width="3.1"/>
</g>
<g fill="none" stroke-linecap="round">
<path d="M344.2 401.6 A11.5 5.2 0 0 0 356.1 407.7" stroke="url(#wfL)" stroke-width="3.1"/>
<path d="M338.1 401.0 A17.7 8.8 0 0 0 356.4 411.3" stroke="url(#wfL)" stroke-width="3.1"/>
<path d="M332.0 400.4 A23.9 12.4 0 0 0 356.7 414.9" stroke="url(#wfL)" stroke-width="3.1"/>
<path d="M325.9 399.8 A30.0 16.0 0 0 0 357.0 418.5" stroke="url(#wfL)" stroke-width="3.1"/>
</g>
<g fill="none" stroke-linecap="round">
<path d="M385.2 418.6 A11.5 5.2 0 0 0 397.1 424.7" stroke="url(#wfL)" stroke-width="3.1"/>
<path d="M379.1 418.0 A17.7 8.8 0 0 0 397.4 428.3" stroke="url(#wfL)" stroke-width="3.1"/>
<path d="M373.0 417.4 A23.9 12.4 0 0 0 397.7 431.9" stroke="url(#wfL)" stroke-width="3.1"/>
<path d="M366.9 416.8 A30.0 16.0 0 0 0 398.0 435.5" stroke="url(#wfL)" stroke-width="3.1"/>
</g>
<polygon points="528.0,410.1 545.7,416.0 528.0,421.9 510.3,416.0" fill="url(#gSide)" stroke="url(#gSide)" stroke-linejoin="round" stroke-width="5.6"/>
<rect x="507.5" y="400.0" width="41.0" height="16.0" fill="url(#gSide)"/>
<polyline points="507.7,404.6 510.0,407.0 528.0,413.1 546.0,407.0 548.3,404.6" fill="none" stroke="#bfccd3" stroke-width="1.1" stroke-linejoin="round"/>
<polyline points="507.7,410.2 510.0,412.6 528.0,418.7 546.0,412.6 548.3,410.2" fill="none" stroke="#bfccd3" stroke-width="1.1" stroke-linejoin="round"/>
<polygon points="528.0,394.1 545.7,400.0 528.0,405.9 510.3,400.0" fill="url(#gTop)" stroke="url(#gTop)" stroke-linejoin="round" stroke-width="5.6"/>
<g fill="#fff" opacity="1">
<rect x="519.82" y="395.60" width="2.13" height="8.40"/>
<rect x="534.05" y="395.60" width="2.13" height="8.40"/>
<rect x="522.85" y="397.67" width="10.30" height="1.23"/>
<rect x="522.85" y="400.70" width="10.30" height="1.23"/>
</g>
<polygon points="604.0,447.6 621.7,453.5 604.0,459.4 586.3,453.5" fill="url(#gSide)" stroke="url(#gSide)" stroke-linejoin="round" stroke-width="5.6"/>
<rect x="583.5" y="437.5" width="41.0" height="16.0" fill="url(#gSide)"/>
<polyline points="583.7,442.1 586.0,444.5 604.0,450.6 622.0,444.5 624.3,442.1" fill="none" stroke="#bfccd3" stroke-width="1.1" stroke-linejoin="round"/>
<polyline points="583.7,447.7 586.0,450.1 604.0,456.2 622.0,450.1 624.3,447.7" fill="none" stroke="#bfccd3" stroke-width="1.1" stroke-linejoin="round"/>
<polygon points="604.0,431.6 621.7,437.5 604.0,443.4 586.3,437.5" fill="url(#gTop)" stroke="url(#gTop)" stroke-linejoin="round" stroke-width="5.6"/>
<g fill="#fff" opacity="1">
<rect x="595.82" y="433.10" width="2.13" height="8.40"/>
<rect x="610.05" y="433.10" width="2.13" height="8.40"/>
<rect x="598.85" y="435.17" width="10.30" height="1.23"/>
<rect x="598.85" y="438.20" width="10.30" height="1.23"/>
</g>
<polygon points="679.7,483.6 697.4,489.5 679.7,495.4 662.0,489.5" fill="url(#gSide)" stroke="url(#gSide)" stroke-linejoin="round" stroke-width="5.6"/>
<rect x="659.2" y="473.5" width="41.0" height="16.0" fill="url(#gSide)"/>
<polyline points="659.4,478.1 661.7,480.5 679.7,486.6 697.7,480.5 700.0,478.1" fill="none" stroke="#bfccd3" stroke-width="1.1" stroke-linejoin="round"/>
<polyline points="659.4,483.7 661.7,486.1 679.7,492.2 697.7,486.1 700.0,483.7" fill="none" stroke="#bfccd3" stroke-width="1.1" stroke-linejoin="round"/>
<polygon points="679.7,467.6 697.4,473.5 679.7,479.4 662.0,473.5" fill="url(#gTop)" stroke="url(#gTop)" stroke-linejoin="round" stroke-width="5.6"/>
<g fill="#fff" opacity="1">
<rect x="671.52" y="469.10" width="2.13" height="8.40"/>
<rect x="685.75" y="469.10" width="2.13" height="8.40"/>
<rect x="674.55" y="471.17" width="10.30" height="1.23"/>
<rect x="674.55" y="474.20" width="10.30" height="1.23"/>
</g>
<polygon points="461.0,424.5 478.0,431.0 461.0,437.5 444.0,431.0" fill="url(#gSide)" stroke="url(#gSide)" stroke-linejoin="round" stroke-width="6.0"/>
<rect x="441.0" y="425.0" width="40.0" height="6.0" fill="url(#gSide)"/>
<polygon points="461.0,418.5 478.0,425.0 461.0,431.5 444.0,425.0" fill="url(#gTop)" stroke="url(#gTop)" stroke-linejoin="round" stroke-width="6.0"/>
<g fill="#fff" opacity="1">
<rect x="452.97" y="420.57" width="2.09" height="8.25"/>
<rect x="466.94" y="420.57" width="2.09" height="8.25"/>
<rect x="455.94" y="422.61" width="10.12" height="1.21"/>
<rect x="455.94" y="425.58" width="10.12" height="1.21"/>
</g>
<polygon points="502.5,443.0 519.5,449.5 502.5,456.0 485.5,449.5" fill="url(#gSide)" stroke="url(#gSide)" stroke-linejoin="round" stroke-width="6.0"/>
<rect x="482.5" y="443.5" width="40.0" height="6.0" fill="url(#gSide)"/>
<polygon points="502.5,437.0 519.5,443.5 502.5,450.0 485.5,443.5" fill="url(#gTop)" stroke="url(#gTop)" stroke-linejoin="round" stroke-width="6.0"/>
<g fill="#fff" opacity="1">
<rect x="494.47" y="439.07" width="2.09" height="8.25"/>
<rect x="508.44" y="439.07" width="2.09" height="8.25"/>
<rect x="497.44" y="441.11" width="10.12" height="1.21"/>
<rect x="497.44" y="444.08" width="10.12" height="1.21"/>
</g>
<polygon points="537.0,461.0 554.0,467.5 537.0,474.0 520.0,467.5" fill="url(#gSide)" stroke="url(#gSide)" stroke-linejoin="round" stroke-width="6.0"/>
<rect x="517.0" y="461.5" width="40.0" height="6.0" fill="url(#gSide)"/>
<polygon points="537.0,455.0 554.0,461.5 537.0,468.0 520.0,461.5" fill="url(#gTop)" stroke="url(#gTop)" stroke-linejoin="round" stroke-width="6.0"/>
<g fill="#fff" opacity="1">
<rect x="528.97" y="457.07" width="2.09" height="8.25"/>
<rect x="542.94" y="457.07" width="2.09" height="8.25"/>
<rect x="531.94" y="459.11" width="10.12" height="1.21"/>
<rect x="531.94" y="462.08" width="10.12" height="1.21"/>
</g>
<polygon points="578.0,479.5 595.0,486.0 578.0,492.5 561.0,486.0" fill="url(#gSide)" stroke="url(#gSide)" stroke-linejoin="round" stroke-width="6.0"/>
<rect x="558.0" y="480.0" width="40.0" height="6.0" fill="url(#gSide)"/>
<polygon points="578.0,473.5 595.0,480.0 578.0,486.5 561.0,480.0" fill="url(#gTop)" stroke="url(#gTop)" stroke-linejoin="round" stroke-width="6.0"/>
<g fill="#fff" opacity="1">
<rect x="569.97" y="475.57" width="2.09" height="8.25"/>
<rect x="583.94" y="475.57" width="2.09" height="8.25"/>
<rect x="572.94" y="477.61" width="10.12" height="1.21"/>
<rect x="572.94" y="480.58" width="10.12" height="1.21"/>
</g>
<polygon points="612.0,497.0 629.0,503.5 612.0,510.0 595.0,503.5" fill="url(#gSide)" stroke="url(#gSide)" stroke-linejoin="round" stroke-width="6.0"/>
<rect x="592.0" y="497.5" width="40.0" height="6.0" fill="url(#gSide)"/>
<polygon points="612.0,491.0 629.0,497.5 612.0,504.0 595.0,497.5" fill="url(#gTop)" stroke="url(#gTop)" stroke-linejoin="round" stroke-width="6.0"/>
<g fill="#fff" opacity="1">
<rect x="603.97" y="493.07" width="2.09" height="8.25"/>
<rect x="617.94" y="493.07" width="2.09" height="8.25"/>
<rect x="606.94" y="495.11" width="10.12" height="1.21"/>
<rect x="606.94" y="498.08" width="10.12" height="1.21"/>
</g>
<polygon points="653.5,515.5 670.5,522.0 653.5,528.5 636.5,522.0" fill="url(#gSide)" stroke="url(#gSide)" stroke-linejoin="round" stroke-width="6.0"/>
<rect x="633.5" y="516.0" width="40.0" height="6.0" fill="url(#gSide)"/>
<polygon points="653.5,509.5 670.5,516.0 653.5,522.5 636.5,516.0" fill="url(#gTop)" stroke="url(#gTop)" stroke-linejoin="round" stroke-width="6.0"/>
<g fill="#fff" opacity="1">
<rect x="645.47" y="511.58" width="2.09" height="8.25"/>
<rect x="659.44" y="511.58" width="2.09" height="8.25"/>
<rect x="648.44" y="513.61" width="10.12" height="1.21"/>
<rect x="648.44" y="516.58" width="10.12" height="1.21"/>
</g>
<g transform="translate(427.7,449.7) scale(0.92,0.92)">
<polygon points="-4.5,-11 10,-5 10,6.5 -4.5,0.5" fill="#7d919c"/>
<polygon points="-3.3,-9 8.8,-4 8.8,5 -3.3,0" fill="url(#lapScr)"/>
<polygon points="-12,5.2 -4.5,0.8 10,6.8 2,11.2" fill="#aab8c1"/>
<polygon points="-12,5.2 2,11.2 2,12.2 -12,6.2" fill="#7f939e"/>
<polygon points="2,11.2 10,6.8 10,7.8 2,12.2" fill="#6f8591"/>
</g>
<g transform="translate(466.7,467.2) scale(0.92,0.92)">
<polygon points="-4.5,-11 10,-5 10,6.5 -4.5,0.5" fill="#7d919c"/>
<polygon points="-3.3,-9 8.8,-4 8.8,5 -3.3,0" fill="url(#lapScr)"/>
<polygon points="-12,5.2 -4.5,0.8 10,6.8 2,11.2" fill="#aab8c1"/>
<polygon points="-12,5.2 2,11.2 2,12.2 -12,6.2" fill="#7f939e"/>
<polygon points="2,11.2 10,6.8 10,7.8 2,12.2" fill="#6f8591"/>
</g>
<g transform="translate(501.2,483.2) scale(0.92,0.92)">
<polygon points="-4.5,-11 10,-5 10,6.5 -4.5,0.5" fill="#7d919c"/>
<polygon points="-3.3,-9 8.8,-4 8.8,5 -3.3,0" fill="url(#lapScr)"/>
<polygon points="-12,5.2 -4.5,0.8 10,6.8 2,11.2" fill="#aab8c1"/>
<polygon points="-12,5.2 2,11.2 2,12.2 -12,6.2" fill="#7f939e"/>
<polygon points="2,11.2 10,6.8 10,7.8 2,12.2" fill="#6f8591"/>
</g>
<g transform="translate(541.2,503.2) scale(0.92,0.92)">
<polygon points="-4.5,-11 10,-5 10,6.5 -4.5,0.5" fill="#7d919c"/>
<polygon points="-3.3,-9 8.8,-4 8.8,5 -3.3,0" fill="url(#lapScr)"/>
<polygon points="-12,5.2 -4.5,0.8 10,6.8 2,11.2" fill="#aab8c1"/>
<polygon points="-12,5.2 2,11.2 2,12.2 -12,6.2" fill="#7f939e"/>
<polygon points="2,11.2 10,6.8 10,7.8 2,12.2" fill="#6f8591"/>
</g>
<g transform="translate(578.2,520.2) scale(0.92,0.92)">
<polygon points="-4.5,-11 10,-5 10,6.5 -4.5,0.5" fill="#7d919c"/>
<polygon points="-3.3,-9 8.8,-4 8.8,5 -3.3,0" fill="url(#lapScr)"/>
<polygon points="-12,5.2 -4.5,0.8 10,6.8 2,11.2" fill="#aab8c1"/>
<polygon points="-12,5.2 2,11.2 2,12.2 -12,6.2" fill="#7f939e"/>
<polygon points="2,11.2 10,6.8 10,7.8 2,12.2" fill="#6f8591"/>
</g>
<g transform="translate(611.2,535.2) scale(0.92,0.92)">
<polygon points="-4.5,-11 10,-5 10,6.5 -4.5,0.5" fill="#7d919c"/>
<polygon points="-3.3,-9 8.8,-4 8.8,5 -3.3,0" fill="url(#lapScr)"/>
<polygon points="-12,5.2 -4.5,0.8 10,6.8 2,11.2" fill="#aab8c1"/>
<polygon points="-12,5.2 2,11.2 2,12.2 -12,6.2" fill="#7f939e"/>
<polygon points="2,11.2 10,6.8 10,7.8 2,12.2" fill="#6f8591"/>
</g>
<polygon points="652.0,385.1 669.7,391.0 652.0,396.9 634.3,391.0" fill="url(#gSide)" stroke="url(#gSide)" stroke-linejoin="round" stroke-width="5.6"/>
<rect x="631.5" y="375.0" width="41.0" height="16.0" fill="url(#gSide)"/>
<polyline points="631.7,379.6 634.0,382.0 652.0,388.1 670.0,382.0 672.3,379.6" fill="none" stroke="#bfccd3" stroke-width="1.1" stroke-linejoin="round"/>
<polyline points="631.7,385.2 634.0,387.6 652.0,393.7 670.0,387.6 672.3,385.2" fill="none" stroke="#bfccd3" stroke-width="1.1" stroke-linejoin="round"/>
<polygon points="652.0,369.1 669.7,375.0 652.0,380.9 634.3,375.0" fill="url(#gTop)" stroke="url(#gTop)" stroke-linejoin="round" stroke-width="5.6"/>
<g fill="#fff" opacity="1">
<rect x="643.82" y="370.60" width="2.13" height="8.40"/>
<rect x="658.05" y="370.60" width="2.13" height="8.40"/>
<rect x="646.85" y="372.67" width="10.30" height="1.23"/>
<rect x="646.85" y="375.70" width="10.30" height="1.23"/>
</g>
<polygon points="695.5,366.1 713.2,372.0 695.5,377.9 677.8,372.0" fill="url(#gSide)" stroke="url(#gSide)" stroke-linejoin="round" stroke-width="5.6"/>
<rect x="675.0" y="356.0" width="41.0" height="16.0" fill="url(#gSide)"/>
<polyline points="675.2,360.6 677.5,363.0 695.5,369.1 713.5,363.0 715.8,360.6" fill="none" stroke="#bfccd3" stroke-width="1.1" stroke-linejoin="round"/>
<polyline points="675.2,366.2 677.5,368.6 695.5,374.7 713.5,368.6 715.8,366.2" fill="none" stroke="#bfccd3" stroke-width="1.1" stroke-linejoin="round"/>
<polygon points="695.5,350.1 713.2,356.0 695.5,361.9 677.8,356.0" fill="url(#gTop)" stroke="url(#gTop)" stroke-linejoin="round" stroke-width="5.6"/>
<g fill="#fff" opacity="1">
<rect x="687.32" y="351.60" width="2.13" height="8.40"/>
<rect x="701.55" y="351.60" width="2.13" height="8.40"/>
<rect x="690.35" y="353.67" width="10.30" height="1.23"/>
<rect x="690.35" y="356.70" width="10.30" height="1.23"/>
</g>
<polygon points="740.0,346.6 757.7,352.5 740.0,358.4 722.3,352.5" fill="url(#gSide)" stroke="url(#gSide)" stroke-linejoin="round" stroke-width="5.6"/>
<rect x="719.5" y="336.5" width="41.0" height="16.0" fill="url(#gSide)"/>
<polyline points="719.7,341.1 722.0,343.5 740.0,349.6 758.0,343.5 760.3,341.1" fill="none" stroke="#bfccd3" stroke-width="1.1" stroke-linejoin="round"/>
<polyline points="719.7,346.7 722.0,349.1 740.0,355.2 758.0,349.1 760.3,346.7" fill="none" stroke="#bfccd3" stroke-width="1.1" stroke-linejoin="round"/>
<polygon points="740.0,330.6 757.7,336.5 740.0,342.4 722.3,336.5" fill="url(#gTop)" stroke="url(#gTop)" stroke-linejoin="round" stroke-width="5.6"/>
<g fill="#fff" opacity="1">
<rect x="731.82" y="332.10" width="2.13" height="8.40"/>
<rect x="746.05" y="332.10" width="2.13" height="8.40"/>
<rect x="734.85" y="334.17" width="10.30" height="1.23"/>
<rect x="734.85" y="337.20" width="10.30" height="1.23"/>
</g>
<polygon points="782.5,326.6 800.2,332.5 782.5,338.4 764.8,332.5" fill="url(#gSide)" stroke="url(#gSide)" stroke-linejoin="round" stroke-width="5.6"/>
<rect x="762.0" y="316.5" width="41.0" height="16.0" fill="url(#gSide)"/>
<polyline points="762.2,321.1 764.5,323.5 782.5,329.6 800.5,323.5 802.8,321.1" fill="none" stroke="#bfccd3" stroke-width="1.1" stroke-linejoin="round"/>
<polyline points="762.2,326.7 764.5,329.1 782.5,335.2 800.5,329.1 802.8,326.7" fill="none" stroke="#bfccd3" stroke-width="1.1" stroke-linejoin="round"/>
<polygon points="782.5,310.6 800.2,316.5 782.5,322.4 764.8,316.5" fill="url(#gTop)" stroke="url(#gTop)" stroke-linejoin="round" stroke-width="5.6"/>
<g fill="#fff" opacity="1">
<rect x="774.32" y="312.10" width="2.13" height="8.40"/>
<rect x="788.55" y="312.10" width="2.13" height="8.40"/>
<rect x="777.35" y="314.17" width="10.30" height="1.23"/>
<rect x="777.35" y="317.20" width="10.30" height="1.23"/>
</g>
<polygon points="827.5,305.1 845.2,311.0 827.5,316.9 809.8,311.0" fill="url(#gSide)" stroke="url(#gSide)" stroke-linejoin="round" stroke-width="5.6"/>
<rect x="807.0" y="295.0" width="41.0" height="16.0" fill="url(#gSide)"/>
<polyline points="807.2,299.6 809.5,302.0 827.5,308.1 845.5,302.0 847.8,299.6" fill="none" stroke="#bfccd3" stroke-width="1.1" stroke-linejoin="round"/>
<polyline points="807.2,305.2 809.5,307.6 827.5,313.7 845.5,307.6 847.8,305.2" fill="none" stroke="#bfccd3" stroke-width="1.1" stroke-linejoin="round"/>
<polygon points="827.5,289.1 845.2,295.0 827.5,300.9 809.8,295.0" fill="url(#gTop)" stroke="url(#gTop)" stroke-linejoin="round" stroke-width="5.6"/>
<g fill="#fff" opacity="1">
<rect x="819.32" y="290.60" width="2.13" height="8.40"/>
<rect x="833.55" y="290.60" width="2.13" height="8.40"/>
<rect x="822.35" y="292.67" width="10.30" height="1.23"/>
<rect x="822.35" y="295.70" width="10.30" height="1.23"/>
</g>
<polygon points="724.0,421.1 737.9,427.0 724.0,432.9 710.1,427.0" fill="url(#gSide)" stroke="url(#gSide)" stroke-linejoin="round" stroke-width="5.2"/>
<rect x="707.5" y="423.0" width="33.0" height="4.0" fill="url(#gSide)"/>
<polygon points="724.0,417.1 737.9,423.0 724.0,428.9 710.1,423.0" fill="url(#gTop)" stroke="url(#gTop)" stroke-linejoin="round" stroke-width="5.2"/>
<g fill="#fff" opacity="1">
<rect x="717.43" y="419.32" width="1.71" height="6.75"/>
<rect x="728.86" y="419.32" width="1.71" height="6.75"/>
<rect x="719.86" y="420.99" width="8.28" height="0.99"/>
<rect x="719.86" y="423.42" width="8.28" height="0.99"/>
</g>
<polygon points="768.0,401.1 781.9,407.0 768.0,412.9 754.1,407.0" fill="url(#gSide)" stroke="url(#gSide)" stroke-linejoin="round" stroke-width="5.2"/>
<rect x="751.5" y="403.0" width="33.0" height="4.0" fill="url(#gSide)"/>
<polygon points="768.0,397.1 781.9,403.0 768.0,408.9 754.1,403.0" fill="url(#gTop)" stroke="url(#gTop)" stroke-linejoin="round" stroke-width="5.2"/>
<g fill="#fff" opacity="1">
<rect x="761.43" y="399.32" width="1.71" height="6.75"/>
<rect x="772.86" y="399.32" width="1.71" height="6.75"/>
<rect x="763.86" y="400.99" width="8.28" height="0.99"/>
<rect x="763.86" y="403.42" width="8.28" height="0.99"/>
</g>
<polygon points="805.5,377.1 819.4,383.0 805.5,388.9 791.6,383.0" fill="url(#gSide)" stroke="url(#gSide)" stroke-linejoin="round" stroke-width="5.2"/>
<rect x="789.0" y="379.0" width="33.0" height="4.0" fill="url(#gSide)"/>
<polygon points="805.5,373.1 819.4,379.0 805.5,384.9 791.6,379.0" fill="url(#gTop)" stroke="url(#gTop)" stroke-linejoin="round" stroke-width="5.2"/>
<g fill="#fff" opacity="1">
<rect x="798.93" y="375.32" width="1.71" height="6.75"/>
<rect x="810.36" y="375.32" width="1.71" height="6.75"/>
<rect x="801.36" y="376.99" width="8.28" height="0.99"/>
<rect x="801.36" y="379.42" width="8.28" height="0.99"/>
</g>
<polygon points="852.0,355.1 865.9,361.0 852.0,366.9 838.1,361.0" fill="url(#gSide)" stroke="url(#gSide)" stroke-linejoin="round" stroke-width="5.2"/>
<rect x="835.5" y="357.0" width="33.0" height="4.0" fill="url(#gSide)"/>
<polygon points="852.0,351.1 865.9,357.0 852.0,362.9 838.1,357.0" fill="url(#gTop)" stroke="url(#gTop)" stroke-linejoin="round" stroke-width="5.2"/>
<g fill="#fff" opacity="1">
<rect x="845.43" y="353.32" width="1.71" height="6.75"/>
<rect x="856.86" y="353.32" width="1.71" height="6.75"/>
<rect x="847.86" y="354.99" width="8.28" height="0.99"/>
<rect x="847.86" y="357.42" width="8.28" height="0.99"/>
</g>
<polygon points="894.0,334.1 907.9,340.0 894.0,345.9 880.1,340.0" fill="url(#gSide)" stroke="url(#gSide)" stroke-linejoin="round" stroke-width="5.2"/>
<rect x="877.5" y="336.0" width="33.0" height="4.0" fill="url(#gSide)"/>
<polygon points="894.0,330.1 907.9,336.0 894.0,341.9 880.1,336.0" fill="url(#gTop)" stroke="url(#gTop)" stroke-linejoin="round" stroke-width="5.2"/>
<g fill="#fff" opacity="1">
<rect x="887.43" y="332.32" width="1.71" height="6.75"/>
<rect x="898.86" y="332.32" width="1.71" height="6.75"/>
<rect x="889.86" y="333.99" width="8.28" height="0.99"/>
<rect x="889.86" y="336.42" width="8.28" height="0.99"/>
</g>
<g fill="none" stroke-linecap="round">
<path d="M922.5 354.0 Q919.7 360.3 911.0 361.2" stroke="url(#wfR)" stroke-width="3.2"/>
<path d="M928.0 354.0 Q924.1 365.5 911.0 366.7" stroke="url(#wfR)" stroke-width="3.2"/>
<path d="M933.5 354.0 Q928.5 370.7 911.0 372.2" stroke="url(#wfR)" stroke-width="3.2"/>
<path d="M939.0 354.0 Q932.9 375.8 911.0 377.5" stroke="url(#wfR)" stroke-width="3.2"/>
</g>
<g fill="none" stroke-linecap="round">
<path d="M883.0 374.0 Q880.2 380.3 871.5 381.2" stroke="url(#wfR)" stroke-width="3.2"/>
<path d="M888.5 374.0 Q884.6 385.5 871.5 386.7" stroke="url(#wfR)" stroke-width="3.2"/>
<path d="M894.0 374.0 Q889.0 390.7 871.5 392.2" stroke="url(#wfR)" stroke-width="3.2"/>
<path d="M899.5 374.0 Q893.4 395.8 871.5 397.5" stroke="url(#wfR)" stroke-width="3.2"/>
</g>
<g fill="none" stroke-linecap="round">
<path d="M837.5 395.0 Q834.7 401.3 826.0 402.2" stroke="url(#wfR)" stroke-width="3.2"/>
<path d="M843.0 395.0 Q839.1 406.5 826.0 407.7" stroke="url(#wfR)" stroke-width="3.2"/>
<path d="M848.5 395.0 Q843.5 411.7 826.0 413.2" stroke="url(#wfR)" stroke-width="3.2"/>
<path d="M854.0 395.0 Q847.9 416.8 826.0 418.5" stroke="url(#wfR)" stroke-width="3.2"/>
</g>
<g fill="none" stroke-linecap="round">
<path d="M801.0 414.0 Q798.2 420.3 789.5 421.2" stroke="url(#wfR)" stroke-width="3.2"/>
<path d="M806.5 414.0 Q802.6 425.5 789.5 426.7" stroke="url(#wfR)" stroke-width="3.2"/>
<path d="M812.0 414.0 Q807.0 430.7 789.5 432.2" stroke="url(#wfR)" stroke-width="3.2"/>
<path d="M817.5 414.0 Q811.4 435.8 789.5 437.5" stroke="url(#wfR)" stroke-width="3.2"/>
</g>
<g fill="none" stroke-linecap="round">
<path d="M768.0 435.0 Q765.2 441.3 756.5 442.2" stroke="url(#wfR)" stroke-width="3.2"/>
<path d="M773.5 435.0 Q769.6 446.5 756.5 447.7" stroke="url(#wfR)" stroke-width="3.2"/>
<path d="M779.0 435.0 Q774.0 451.7 756.5 453.2" stroke="url(#wfR)" stroke-width="3.2"/>
<path d="M784.5 435.0 Q778.4 456.8 756.5 458.5" stroke="url(#wfR)" stroke-width="3.2"/>
</g>
<g transform="translate(56.0,312.0)">
<polygon points="0.4,29.8 25,17.5 67.6,39.4 41.5,53" fill="#4d6574"/>
<polygon points="0.4,29.8 41.5,53 41.5,54.6 0.4,31.4" fill="#3c5361"/><polygon points="41.5,53 67.6,39.4 67.6,41 41.5,54.6" fill="#34495a"/>
<ellipse cx="29.5" cy="36.8" rx="13.2" ry="5.6" fill="#415867" stroke="#a9bcc6" stroke-width="1.9" transform="rotate(24 29.5 36.8)"/>
<line x1="19.9" y1="1" x2="19.9" y2="30" stroke="#8ea3af" stroke-width="0.9"/><polygon points="19.9,1.2 24.4,2.2 24.4,5 19.9,4.4" fill="#6f8795"/>
<polygon points="25,4.5 29.5,2.2 32.5,3.7 32.5,27.5 25,24" fill="#a9bbc6"/>
<polygon points="32.5,3.7 35.5,5.2 35.5,26 32.5,27.5" fill="#6b8493"/>
<g fill="#5f7988"><rect x="26.6" y="7.5" width="4" height="4.2"/><rect x="26.6" y="13.3" width="4" height="4.2"/><rect x="26.6" y="19.2" width="4" height="3.6"/></g>
<polygon points="33,12.5 36,5.5 52.5,14.5 49,21" fill="#586f7e"/>
<polygon points="33,12.5 49,21 49,40 33,30.5" fill="#9fb2be"/>
<g stroke="#4d6575" stroke-width="1.6"><line x1="33.5" y1="16.5" x2="48.5" y2="24.5"/><line x1="33.5" y1="22" x2="48.5" y2="30"/></g>
<g stroke="#708998" stroke-width="0.8"><line x1="37" y1="26" x2="37" y2="33"/><line x1="41" y1="28" x2="41" y2="35"/><line x1="45" y1="30" x2="45" y2="37.5"/></g>
<polygon points="48.4,19 53,14.2 53,43.5 48.4,41" fill="#92a6b3"/>
<polygon points="53,14.2 57,12.6 62.3,19.6 62.3,38.5 53,43.5" fill="#3a5362"/>
<g fill="#b9c9d2"><rect x="56.6" y="24.3" width="3" height="2.7"/><rect x="56.6" y="29.2" width="3" height="2.7"/></g>
</g>
<text x="31.0" y="174.5" font-size="18" fill="#000" font-weight="bold" text-anchor="start" font-family='"Liberation Sans","Noto Sans CJK SC",sans-serif' stroke="#000" stroke-width="0.35">教学区有线</text>
<text x="569.5" y="95.0" font-size="18" fill="#000" font-weight="bold" text-anchor="start" font-family='"Liberation Sans","Noto Sans CJK SC",sans-serif' stroke="#000" stroke-width="0.35">数据中心区</text>
<text x="553.0" y="166.0" font-size="18" fill="#000" font-weight="bold" text-anchor="start" font-family='"Liberation Sans","Noto Sans CJK SC",sans-serif' stroke="#000" stroke-width="0.35">出口区</text>
<text x="544.5" y="362.0" font-size="18" fill="#000" font-weight="bold" text-anchor="start" font-family='"Liberation Sans","Noto Sans CJK SC",sans-serif' stroke="#000" stroke-width="0.35">核心区</text>
<text x="11.0" y="377.0" font-size="18" fill="#000" font-weight="bold" text-anchor="start" font-family='"Liberation Sans","Noto Sans CJK SC",sans-serif' stroke="#000" stroke-width="0.35">余杭校区</text>
<text x="115.0" y="418.5" font-size="18" fill="#000" font-weight="bold" text-anchor="start" font-family='"Liberation Sans","Noto Sans CJK SC",sans-serif' stroke="#000" stroke-width="0.35">教学区无线</text>
<text x="347.0" y="542.0" font-size="18" fill="#000" font-weight="bold" text-anchor="start" font-family='"Liberation Sans","Noto Sans CJK SC",sans-serif' stroke="#000" stroke-width="0.35">宿舍区有线</text>
<text x="833.5" y="484.0" font-size="18" fill="#000" font-weight="bold" text-anchor="start" font-family='"Liberation Sans","Noto Sans CJK SC",sans-serif' stroke="#000" stroke-width="0.35">宿舍区无线</text>
<text transform="translate(129,150.5) rotate(-25.5)" font-size="11.6" fill="#222" font-family='"Liberation Sans","Noto Sans CJK SC",sans-serif'>有线不认证，静态地址分配</text>
<text transform="translate(181,371.5) rotate(26.7)" font-size="12" fill="#e33a34" font-family='"Liberation Sans","Noto Sans CJK SC",sans-serif'>场景化无线覆盖，WEB认证，</text>
<text transform="translate(169,383) rotate(26.7)" font-size="12.6" fill="#e33a34" font-family='"Liberation Sans","Noto Sans CJK SC",sans-serif'>802.11ac wave2</text>
<text transform="translate(378.5,478.5) rotate(26.2)" font-size="12" fill="#e33a34" font-family='"Liberation Sans","Noto Sans CJK SC",sans-serif'>有线网、 WEB认证、校内校外一次认证</text>
<text transform="translate(800,451) rotate(-22)" font-size="11.2" fill="#e33a34" font-family='"Liberation Sans","Noto Sans CJK SC",sans-serif'>无线面板AP入室、WEB认证、校</text>
<text transform="translate(805,464.7) rotate(-22)" font-size="11.2" fill="#e33a34" font-family='"Liberation Sans","Noto Sans CJK SC",sans-serif'>内校外一次认证</text>
<text x="355.0" y="133.0" font-size="10.2" fill="#222" font-weight="normal" text-anchor="start" font-family='"Liberation Sans","Noto Sans CJK SC",sans-serif' >接入</text>
<text x="307.5" y="153.5" font-size="10.2" fill="#222" font-weight="normal" text-anchor="start" font-family='"Liberation Sans","Noto Sans CJK SC",sans-serif' >接入</text>
<text x="259.5" y="174.0" font-size="10.2" fill="#222" font-weight="normal" text-anchor="start" font-family='"Liberation Sans","Noto Sans CJK SC",sans-serif' >接入</text>
<text x="216.5" y="195.0" font-size="10.2" fill="#222" font-weight="normal" text-anchor="start" font-family='"Liberation Sans","Noto Sans CJK SC",sans-serif' >接入</text>
<text x="171.5" y="215.0" font-size="10.2" fill="#222" font-weight="normal" text-anchor="start" font-family='"Liberation Sans","Noto Sans CJK SC",sans-serif' >接入</text>
<text x="412.0" y="167.5" font-size="10.2" fill="#222" font-weight="normal" text-anchor="start" font-family='"Liberation Sans","Noto Sans CJK SC",sans-serif' >汇聚</text>
<text x="366.0" y="187.5" font-size="10.2" fill="#222" font-weight="normal" text-anchor="start" font-family='"Liberation Sans","Noto Sans CJK SC",sans-serif' >汇聚</text>
<text x="321.0" y="208.5" font-size="10.2" fill="#222" font-weight="normal" text-anchor="start" font-family='"Liberation Sans","Noto Sans CJK SC",sans-serif' >汇聚</text>
<text x="276.0" y="229.5" font-size="10.2" fill="#222" font-weight="normal" text-anchor="start" font-family='"Liberation Sans","Noto Sans CJK SC",sans-serif' >汇聚</text>
<text x="230.0" y="249.5" font-size="10.2" fill="#222" font-weight="normal" text-anchor="start" font-family='"Liberation Sans","Noto Sans CJK SC",sans-serif' >汇聚</text>
<text x="908.0" y="333.5" font-size="10.2" fill="#222" font-weight="normal" text-anchor="start" font-family='"Liberation Sans","Noto Sans CJK SC",sans-serif' >接入</text>
<text x="864.0" y="352.5" font-size="10.2" fill="#222" font-weight="normal" text-anchor="start" font-family='"Liberation Sans","Noto Sans CJK SC",sans-serif' >接入</text>
<text x="817.0" y="372.5" font-size="10.2" fill="#222" font-weight="normal" text-anchor="start" font-family='"Liberation Sans","Noto Sans CJK SC",sans-serif' >接入</text>
<text x="775.5" y="392.5" font-size="10.2" fill="#222" font-weight="normal" text-anchor="start" font-family='"Liberation Sans","Noto Sans CJK SC",sans-serif' >接入</text>
<text x="733.0" y="412.0" font-size="10.2" fill="#222" font-weight="normal" text-anchor="start" font-family='"Liberation Sans","Noto Sans CJK SC",sans-serif' >接入</text>
<text x="549.5" y="423.0" font-size="9.8" fill="#222" font-weight="normal" text-anchor="start" font-family='"Liberation Sans","Noto Sans CJK SC",sans-serif' >宿舍1号楼</text>
<text x="628.0" y="458.5" font-size="9.8" fill="#222" font-weight="normal" text-anchor="start" font-family='"Liberation Sans","Noto Sans CJK SC",sans-serif' >宿舍2号楼</text>
<text x="706.0" y="482.5" font-size="9.8" fill="#222" font-weight="normal" text-anchor="start" font-family='"Liberation Sans","Noto Sans CJK SC",sans-serif' >宿舍14号楼</text>
<text x="676.0" y="388.5" font-size="10.2" fill="#222" font-weight="normal" text-anchor="start" font-family='"Liberation Sans","Noto Sans CJK SC",sans-serif' >宿舍A</text>
<text x="676.0" y="400.5" font-size="10.2" fill="#222" font-weight="normal" text-anchor="start" font-family='"Liberation Sans","Noto Sans CJK SC",sans-serif' >区</text>
<text x="719.5" y="369.5" font-size="10.2" fill="#222" font-weight="normal" text-anchor="start" font-family='"Liberation Sans","Noto Sans CJK SC",sans-serif' >宿舍B区</text>
<text x="765.5" y="350.5" font-size="10.2" fill="#222" font-weight="normal" text-anchor="start" font-family='"Liberation Sans","Noto Sans CJK SC",sans-serif' >宿舍C区</text>
<text x="854.0" y="319.0" font-size="10.2" fill="#222" font-weight="normal" text-anchor="start" font-family='"Liberation Sans","Noto Sans CJK SC",sans-serif' >宿舍G区</text>
<text x="634.0" y="470.5" font-size="10" fill="#222" font-weight="normal" text-anchor="start" font-family='"Liberation Sans","Noto Sans CJK SC",sans-serif' >......</text>
<text x="807.5" y="329.5" font-size="10" fill="#222" font-weight="normal" text-anchor="start" font-family='"Liberation Sans","Noto Sans CJK SC",sans-serif' >......</text>
<text x="396.5" y="389.5" font-size="10" fill="#222" font-weight="normal" text-anchor="start" font-family='"Liberation Sans","Noto Sans CJK SC",sans-serif' >......</text>
<text x="204.0" y="328.0" font-size="9.6" fill="#111" font-weight="normal" text-anchor="start" font-family='"Liberation Sans","Noto Sans CJK SC",sans-serif' >POE</text>
<text x="877.0" y="32.0" font-size="9.8" fill="#222" font-weight="normal" text-anchor="start" font-family='"Liberation Sans","Noto Sans CJK SC",sans-serif'  textLength="37.0" lengthAdjust="spacingAndGlyphs">联通AAA</text>
<text x="930.5" y="52.0" font-size="9.8" fill="#222" font-weight="normal" text-anchor="start" font-family='"Liberation Sans","Noto Sans CJK SC",sans-serif'  textLength="37.5" lengthAdjust="spacingAndGlyphs">移动AAA</text>
<text x="977.5" y="73.5" font-size="9.8" fill="#222" font-weight="normal" text-anchor="start" font-family='"Liberation Sans","Noto Sans CJK SC",sans-serif'  textLength="37.5" lengthAdjust="spacingAndGlyphs">电信AAA</text>
<text x="880.5" y="89.5" font-size="11.5" fill="#111" font-weight="normal" text-anchor="start" font-family='"Liberation Sans","Noto Sans CJK SC",sans-serif' >Bras</text>
<text x="930.0" y="109.5" font-size="11.5" fill="#111" font-weight="normal" text-anchor="start" font-family='"Liberation Sans","Noto Sans CJK SC",sans-serif' >Bras</text>
<text x="976.0" y="142.0" font-size="11.5" fill="#111" font-weight="normal" text-anchor="start" font-family='"Liberation Sans","Noto Sans CJK SC",sans-serif' >Bras</text>
<text x="618.0" y="135.5" font-size="11.5" fill="#111" font-weight="bold" text-anchor="start" font-family='"Liberation Sans","Noto Sans CJK SC",sans-serif' >流控</text>
<text x="688.0" y="196.5" font-size="12.5" fill="#000" font-weight="bold" text-anchor="start" font-family='"Liberation Sans","Noto Sans CJK SC",sans-serif' >行为审计</text>
<text x="318.5" y="84.0" font-size="10.4" fill="#e5161d" font-weight="bold" text-anchor="start" font-family='"Liberation Sans","Noto Sans CJK SC",sans-serif'  textLength="72.5" lengthAdjust="spacingAndGlyphs">教学区认证集群</text>
<text x="364.0" y="106.0" font-size="10.4" fill="#e5161d" font-weight="bold" text-anchor="start" font-family='"Liberation Sans","Noto Sans CJK SC",sans-serif'  textLength="71.5" lengthAdjust="spacingAndGlyphs">宿舍区认证集群</text>
<text x="471.5" y="141.0" font-size="11" fill="#e5161d" font-weight="bold" text-anchor="start" font-family='"Liberation Sans","Noto Sans CJK SC",sans-serif'  textLength="44.5" lengthAdjust="spacingAndGlyphs">网管平台</text>
<text x="461.0" y="184.5" font-size="11.7" fill="#e5161d" font-weight="bold" text-anchor="start" font-family='"Liberation Sans","Noto Sans CJK SC",sans-serif'  textLength="70.0" lengthAdjust="spacingAndGlyphs">教学有线核心</text>
<text x="461.0" y="198.0" font-size="11.7" fill="#e5161d" font-weight="bold" text-anchor="start" font-family='"Liberation Sans","Noto Sans CJK SC",sans-serif'  textLength="59.6" lengthAdjust="spacingAndGlyphs">Cisco9504</text>
<text x="684.5" y="171.0" font-size="11.2" fill="#e5161d" font-weight="bold" text-anchor="start" font-family='"Liberation Sans","Noto Sans CJK SC",sans-serif'  textLength="44.5" lengthAdjust="spacingAndGlyphs">出口网关</text>
<text x="869.0" y="206.0" font-size="11.2" fill="#e5161d" font-weight="bold" text-anchor="start" font-family='"Liberation Sans","Noto Sans CJK SC",sans-serif'  textLength="45.0" lengthAdjust="spacingAndGlyphs">出口网关</text>
<text x="777.0" y="215.5" font-size="10.5" fill="#e5161d" font-weight="bold" text-anchor="start" font-family='"Liberation Sans","Noto Sans CJK SC",sans-serif'  textLength="31.0" lengthAdjust="spacingAndGlyphs">防代理</text>
<text x="563.0" y="215.0" font-size="11.3" fill="#e5161d" font-weight="bold" text-anchor="start" font-family='"Liberation Sans","Noto Sans CJK SC",sans-serif'  textLength="51.5" lengthAdjust="spacingAndGlyphs">互联9396</text>
<text x="664.5" y="279.0" font-size="11.8" fill="#e5161d" font-weight="bold" text-anchor="start" font-family='"Liberation Sans","Noto Sans CJK SC",sans-serif'  textLength="53.5" lengthAdjust="spacingAndGlyphs">互联9396</text>
<text x="730.0" y="286.0" font-size="12" fill="#e5161d" font-weight="bold" text-anchor="start" font-family='"Liberation Sans","Noto Sans CJK SC",sans-serif'  textLength="107.6" lengthAdjust="spacingAndGlyphs">宿舍区交换认证网关</text>
<text x="882.5" y="241.5" font-size="11.5" fill="#e5161d" font-weight="bold" text-anchor="start" font-family='"Liberation Sans","Noto Sans CJK SC",sans-serif'  textLength="73.0" lengthAdjust="spacingAndGlyphs">生活区AC集群</text>
<text x="893.5" y="274.0" font-size="11.3" fill="#e5161d" font-weight="bold" text-anchor="start" font-family='"Liberation Sans","Noto Sans CJK SC",sans-serif'  textLength="79.0" lengthAdjust="spacingAndGlyphs">生活区认证集群</text>
<text x="352.0" y="252.5" font-size="12" fill="#e5161d" font-weight="bold" text-anchor="start" font-family='"Liberation Sans","Noto Sans CJK SC",sans-serif'  textLength="60.0" lengthAdjust="spacingAndGlyphs">教学区交换</text>
<text x="352.0" y="266.5" font-size="12" fill="#e5161d" font-weight="bold" text-anchor="start" font-family='"Liberation Sans","Noto Sans CJK SC",sans-serif'  textLength="48.0" lengthAdjust="spacingAndGlyphs">认证网关</text>
<text x="440.0" y="312.0" font-size="11.5" fill="#e5161d" font-weight="bold" text-anchor="start" font-family='"Liberation Sans","Noto Sans CJK SC",sans-serif'  textLength="72.0" lengthAdjust="spacingAndGlyphs">教学区AC集群</text>
<text x="593.0" y="328.5" font-size="11.9" fill="#e5161d" font-weight="bold" text-anchor="start" font-family='"Liberation Sans","Noto Sans CJK SC",sans-serif'  textLength="71.5" lengthAdjust="spacingAndGlyphs">宿舍有线核心</text>
<text x="593.0" y="342.0" font-size="11.9" fill="#e5161d" font-weight="bold" text-anchor="start" font-family='"Liberation Sans","Noto Sans CJK SC",sans-serif'  textLength="60.0" lengthAdjust="spacingAndGlyphs">Cisco9504</text>
<text x="273.5" y="287.5" font-size="10.3" fill="#e5161d" font-weight="bold" text-anchor="start" font-family='"Liberation Sans","Noto Sans CJK SC",sans-serif'  textLength="20.4" lengthAdjust="spacingAndGlyphs">汇聚</text>
<text x="491.0" y="393.5" font-size="10.3" fill="#e5161d" font-weight="bold" text-anchor="start" font-family='"Liberation Sans","Noto Sans CJK SC",sans-serif'  textLength="20.0" lengthAdjust="spacingAndGlyphs">汇聚</text>
<text x="425.0" y="123.5" font-size="10.5" fill="#e5161d" font-weight="bold" text-anchor="start" font-family='"Liberation Sans","Noto Sans CJK SC",sans-serif' >DHCP</text>
<text x="456.0" y="123.5" font-size="9.5" fill="#e5161d" font-weight="bold" text-anchor="start" font-family='"Liberation Serif","Noto Serif CJK SC",serif' >平台</text>
<text x="447.0" y="161.5" font-size="11" fill="#e2423d" font-weight="normal" text-anchor="start" font-family='"Liberation Sans","Noto Sans CJK SC",sans-serif' >汇聚</text>
<text x="438.5" y="227.0" font-size="13.5" fill="#4f6f8c" font-weight="bold" text-anchor="start" font-family='"Liberation Serif","Noto Serif CJK SC",serif' >VPN</text>
</svg></body></html>
